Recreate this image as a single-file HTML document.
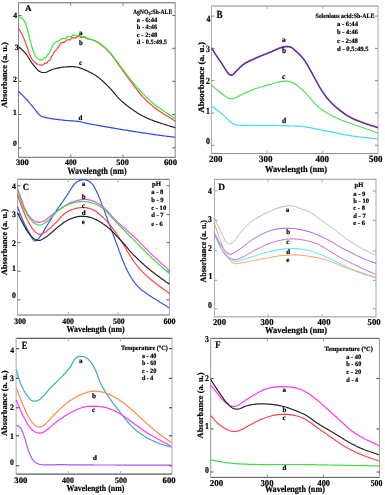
<!DOCTYPE html>
<html><head><meta charset="utf-8"><style>
html,body{margin:0;padding:0;background:#fff;}
svg{display:block;filter:blur(0.25px);}
</style></head><body>
<svg width="385" height="495" viewBox="0 0 385 495" text-rendering="geometricPrecision" font-family='"Liberation Serif", serif' font-weight="bold" fill="#000" stroke="#000" stroke-width="0.2">
<path d="M18.5,2.8 H175.2 M18.5,157.3 H175.2" stroke="#666" stroke-width="1" fill="none"/>
<path d="M18.5,2.3 V157.8 M175.2,2.3 V157.8" stroke="#888" stroke-width="1" fill="none"/>
<path d="M70.7,157.3 v-3.0 M70.7,2.8 v3.0" stroke="#888" stroke-width="1"/>
<path d="M122.9,157.3 v-3.0 M122.9,2.8 v3.0" stroke="#888" stroke-width="1"/>
<path d="M18.5,15.5 h3.0 M175.2,15.5 h-3.0" stroke="#666" stroke-width="1"/>
<path d="M18.5,48.3 h3.0 M175.2,48.3 h-3.0" stroke="#666" stroke-width="1"/>
<path d="M18.5,81.3 h3.0 M175.2,81.3 h-3.0" stroke="#666" stroke-width="1"/>
<path d="M18.5,114.5 h3.0 M175.2,114.5 h-3.0" stroke="#666" stroke-width="1"/>
<path d="M18.5,147.8 h3.0 M175.2,147.8 h-3.0" stroke="#666" stroke-width="1"/>
<path d="M18.4,28.2 18.9,29.1 19.5,29.9 20.0,30.7 20.5,31.6 21.0,32.5 21.5,33.3 22.0,34.2 22.4,35.1 22.8,36.0 23.2,37.0 23.6,37.9 24.0,38.8 24.4,39.7 24.8,40.7 25.1,41.6 25.5,42.6 25.8,43.5 26.2,44.4 26.5,45.4 26.9,46.3 27.2,47.3 27.5,48.2 27.8,49.2 28.1,50.1 28.4,51.1 28.7,52.0 29.0,53.0 29.4,53.9 29.8,54.9 30.2,55.8 30.6,56.7 31.1,57.5 31.6,58.4 32.1,59.3 32.7,60.1 33.3,60.9 34.0,61.6 34.7,62.3 35.5,63.0 36.3,63.5 37.1,64.0 38.0,64.5 39.0,64.8 40.0,65.0 40.9,65.1 41.9,65.0 42.9,64.8 43.8,64.2 44.7,63.2 45.6,63.1 46.4,63.4 47.2,62.6 47.9,61.5 48.6,60.9 49.2,60.5 49.8,59.8 50.3,59.3 50.9,58.2 51.4,56.8 52.0,55.9 52.5,55.1 53.1,54.0 53.7,52.7 54.3,52.0 54.8,51.4 55.4,50.7 56.0,50.1 56.5,49.4 57.1,48.8 57.7,48.1 58.3,47.4 58.9,46.4 59.6,45.1 60.3,44.2 61.0,43.1 61.8,42.6 62.6,42.3 63.4,42.2 64.3,42.4 65.2,41.5 66.1,40.3 67.0,40.0 68.0,39.9 68.9,39.8 69.8,40.0 70.8,39.1 71.7,37.7 72.6,37.6 73.5,38.0 74.5,37.9 75.5,38.0 76.4,37.3 77.4,36.3 78.4,36.4 79.4,36.8 80.4,37.1 81.4,37.7 82.4,37.4 83.4,36.7 84.4,37.1 85.3,37.9 86.3,38.3 87.3,38.8 88.2,39.0 89.2,38.9 90.1,39.2 91.1,39.5 92.0,39.8 93.0,40.2 93.9,40.5 94.9,40.9 95.8,41.3 96.6,41.8 97.5,42.3 98.4,42.9 99.2,43.4 100.0,44.0 100.8,44.6 101.6,45.2 102.4,45.8 103.2,46.5 103.9,47.1 104.7,47.8 105.4,48.4 106.2,49.1 106.9,49.8 107.6,50.5 108.3,51.2 109.0,51.9 109.7,52.7 110.4,53.4 111.0,54.2 111.6,55.0 112.3,55.8 112.9,56.6 113.5,57.4 114.1,58.2 114.6,59.0 115.2,59.8 115.8,60.6 116.4,61.5 116.9,62.3 117.5,63.1 118.1,63.9 118.6,64.8 119.2,65.6 119.8,66.4 120.4,67.2 121.0,68.0 121.6,68.8 122.2,69.7 122.7,70.5 123.3,71.3 123.9,72.1 124.5,72.9 125.1,73.7 125.7,74.5 126.2,75.4 126.8,76.2 127.4,77.0 128.0,77.8 128.6,78.6 129.2,79.4 129.8,80.2 130.4,81.1 131.0,81.9 131.6,82.7 132.2,83.5 132.8,84.3 133.4,85.1 134.0,85.8 134.6,86.6 135.2,87.4 135.8,88.2 136.4,89.0 137.1,89.8 137.7,90.6 138.3,91.4 138.9,92.2 139.6,93.0 140.2,93.7 140.8,94.5 141.5,95.3 142.1,96.0 142.8,96.8 143.5,97.5 144.2,98.2 144.9,99.0 145.6,99.7 146.3,100.4 147.0,101.1 147.7,101.8 148.5,102.5 149.2,103.1 150.0,103.8 150.7,104.4 151.5,105.1 152.3,105.7 153.0,106.4 153.8,107.0 154.6,107.6 155.4,108.2 156.2,108.8 157.0,109.4 157.8,110.0 158.6,110.6 159.5,111.2 160.3,111.7 161.1,112.3 162.0,112.8 162.8,113.4 163.7,113.9 164.5,114.4 165.4,115.0 166.2,115.5 167.1,116.0 167.9,116.5 168.8,117.0 169.7,117.6 170.5,118.1 171.4,118.6 172.2,119.1 173.1,119.7 173.9,120.2 174.8,120.7 175.2,121.0" stroke="#ff3b3b" stroke-width="1.2" fill="none" stroke-linejoin="round"/>
<path d="M18.4,16.1 19.2,16.7 20.1,17.2 20.9,17.7 21.7,18.3 22.5,19.0 23.2,19.7 23.8,20.5 24.3,21.3 24.8,22.2 25.2,23.1 25.6,24.0 26.0,25.0 26.3,25.9 26.7,26.9 27.0,27.8 27.3,28.8 27.6,29.7 27.8,30.7 28.1,31.7 28.3,32.6 28.5,33.6 28.8,34.6 29.0,35.6 29.2,36.6 29.4,37.5 29.7,38.5 29.9,39.5 30.2,40.5 30.5,41.4 30.7,42.4 31.0,43.4 31.3,44.3 31.5,45.3 31.8,46.3 32.1,47.2 32.4,48.2 32.6,49.2 33.0,50.1 33.3,51.1 33.6,52.0 34.0,52.9 34.4,53.9 34.8,54.8 35.3,55.6 35.8,56.5 36.4,57.3 37.1,58.1 37.8,58.7 38.6,59.3 39.5,59.7 40.5,59.9 41.4,59.8 42.4,59.6 43.3,59.2 44.2,58.2 45.0,57.4 45.7,57.6 46.4,57.3 47.0,56.1 47.6,55.0 48.1,54.5 48.6,53.8 49.1,53.2 49.6,52.5 50.1,51.1 50.7,50.0 51.2,49.1 51.6,48.2 52.1,46.8 52.6,45.7 53.1,45.0 53.6,44.3 54.2,43.7 54.8,43.1 55.5,42.6 56.3,42.1 57.1,41.7 58.1,41.4 59.0,40.6 60.0,40.0 60.9,39.3 61.8,38.7 62.8,38.6 63.7,38.4 64.6,38.7 65.5,38.7 66.5,37.5 67.4,36.7 68.4,36.7 69.3,36.5 70.3,36.8 71.2,36.8 72.2,35.4 73.2,34.7 74.2,35.2 75.2,35.4 76.2,35.7 77.2,36.0 78.2,35.2 79.1,35.0 80.1,35.7 81.1,36.2 82.0,36.9 83.0,37.4 83.9,36.8 84.9,36.6 85.8,37.4 86.8,37.9 87.7,38.5 88.7,39.0 89.6,39.0 90.6,39.2 91.5,39.5 92.5,39.8 93.5,40.1 94.4,40.5 95.3,40.9 96.2,41.3 97.1,41.8 98.0,42.3 98.8,42.8 99.6,43.4 100.5,44.0 101.3,44.6 102.1,45.2 102.9,45.8 103.6,46.5 104.4,47.1 105.2,47.8 105.9,48.4 106.6,49.1 107.4,49.8 108.1,50.5 108.8,51.2 109.5,51.9 110.2,52.7 110.8,53.4 111.5,54.2 112.1,55.0 112.7,55.8 113.3,56.6 113.9,57.4 114.5,58.2 115.1,59.0 115.7,59.8 116.3,60.6 116.9,61.4 117.5,62.3 118.0,63.1 118.6,63.9 119.2,64.7 119.8,65.5 120.4,66.3 121.0,67.1 121.6,67.9 122.3,68.7 122.9,69.5 123.5,70.3 124.1,71.1 124.7,71.9 125.3,72.7 125.9,73.5 126.5,74.3 127.1,75.1 127.7,75.9 128.3,76.7 128.9,77.5 129.6,78.3 130.2,79.1 130.8,79.9 131.4,80.6 132.1,81.4 132.7,82.2 133.4,83.0 134.0,83.7 134.7,84.5 135.3,85.3 136.0,86.0 136.6,86.8 137.3,87.5 137.9,88.3 138.6,89.0 139.3,89.8 140.0,90.5 140.6,91.3 141.3,92.0 142.0,92.7 142.7,93.5 143.4,94.2 144.1,94.9 144.8,95.6 145.5,96.3 146.2,97.0 147.0,97.7 147.7,98.4 148.4,99.1 149.2,99.8 149.9,100.5 150.6,101.1 151.4,101.8 152.1,102.5 152.9,103.1 153.7,103.8 154.4,104.4 155.2,105.0 156.0,105.7 156.8,106.3 157.6,106.9 158.4,107.5 159.2,108.1 160.1,108.6 160.9,109.2 161.7,109.8 162.5,110.3 163.4,110.9 164.2,111.4 165.1,112.0 165.9,112.5 166.8,113.1 167.6,113.6 168.4,114.2 169.3,114.7 170.1,115.2 171.0,115.8 171.8,116.3 172.7,116.9 173.5,117.4 174.4,117.9 175.2,118.5 175.2,118.5" stroke="#33e833" stroke-width="1.2" fill="none" stroke-linejoin="round"/>
<path d="M18.4,46.4 19.1,47.1 19.9,47.8 20.6,48.5 21.3,49.1 22.1,49.8 22.8,50.5 23.5,51.2 24.2,51.9 24.9,52.7 25.5,53.4 26.2,54.2 26.8,55.0 27.3,55.8 27.9,56.7 28.4,57.5 29.0,58.4 29.5,59.2 30.0,60.1 30.5,61.0 31.1,61.8 31.6,62.6 32.2,63.4 32.8,64.2 33.4,65.0 34.1,65.8 34.7,66.6 35.4,67.4 36.0,68.1 36.7,68.9 37.4,69.6 38.1,70.3 38.9,70.9 39.7,71.5 40.6,71.9 41.5,72.3 42.5,72.5 43.5,72.5 44.5,72.5 45.5,72.4 46.4,72.1 47.4,71.7 48.3,71.3 49.2,70.8 50.1,70.4 51.0,70.0 51.9,69.6 52.9,69.3 53.8,69.0 54.8,68.7 55.8,68.5 56.7,68.3 57.7,68.1 58.7,67.9 59.7,67.7 60.7,67.5 61.7,67.4 62.7,67.2 63.7,67.1 64.7,67.0 65.7,66.9 66.7,66.8 67.7,66.8 68.7,66.7 69.7,66.7 70.7,66.6 71.7,66.6 72.7,66.7 73.7,66.7 74.7,66.8 75.7,66.9 76.7,67.0 77.6,67.2 78.6,67.5 79.6,67.7 80.5,68.1 81.5,68.4 82.4,68.8 83.3,69.2 84.2,69.6 85.2,70.0 86.1,70.4 87.0,70.8 87.9,71.2 88.8,71.7 89.7,72.1 90.6,72.6 91.5,73.0 92.4,73.5 93.2,74.0 94.1,74.5 95.0,75.1 95.8,75.6 96.6,76.2 97.4,76.7 98.3,77.3 99.0,77.9 99.8,78.6 100.6,79.2 101.4,79.9 102.1,80.5 102.9,81.2 103.6,81.9 104.3,82.6 105.0,83.3 105.8,84.0 106.5,84.7 107.2,85.4 107.9,86.1 108.6,86.8 109.3,87.5 110.0,88.3 110.7,89.0 111.4,89.7 112.0,90.5 112.7,91.2 113.3,92.0 114.0,92.8 114.6,93.5 115.3,94.3 115.9,95.1 116.6,95.8 117.2,96.6 117.9,97.3 118.6,98.1 119.3,98.8 120.0,99.5 120.7,100.2 121.4,100.9 122.2,101.6 122.9,102.2 123.7,102.9 124.5,103.5 125.2,104.2 126.0,104.8 126.8,105.4 127.6,106.0 128.4,106.6 129.2,107.2 130.0,107.8 130.8,108.4 131.7,109.0 132.5,109.6 133.3,110.1 134.1,110.7 135.0,111.3 135.8,111.8 136.6,112.4 137.5,112.9 138.3,113.4 139.2,114.0 140.1,114.5 140.9,115.0 141.8,115.5 142.7,115.9 143.6,116.4 144.5,116.9 145.4,117.3 146.3,117.7 147.2,118.2 148.1,118.6 149.0,118.9 150.0,119.3 150.9,119.7 151.8,120.0 152.8,120.4 153.7,120.7 154.7,121.1 155.6,121.4 156.6,121.7 157.5,122.1 158.5,122.4 159.4,122.7 160.4,123.1 161.3,123.4 162.3,123.7 163.2,124.0 164.2,124.3 165.1,124.6 166.1,124.9 167.1,125.2 168.0,125.5 169.0,125.8 169.9,126.1 170.9,126.4 171.8,126.6 172.8,126.9 173.8,127.2 174.7,127.5 175.2,127.7" stroke="#222" stroke-width="1.2" fill="none" stroke-linejoin="round"/>
<path d="M18.4,91.2 19.1,91.9 19.8,92.6 20.5,93.3 21.3,94.0 22.0,94.7 22.7,95.4 23.4,96.1 24.1,96.8 24.8,97.6 25.5,98.3 26.2,99.0 26.9,99.8 27.5,100.5 28.2,101.3 28.8,102.1 29.5,102.8 30.1,103.6 30.8,104.4 31.4,105.1 32.1,105.9 32.7,106.7 33.3,107.4 34.0,108.2 34.6,109.0 35.2,109.8 35.8,110.6 36.4,111.4 37.0,112.2 37.6,113.0 38.3,113.8 39.0,114.5 39.8,115.1 40.6,115.7 41.5,116.2 42.4,116.6 43.3,116.9 44.3,117.2 45.3,117.4 46.2,117.6 47.2,117.8 48.2,118.0 49.2,118.2 50.2,118.4 51.2,118.6 52.2,118.8 53.1,118.9 54.1,119.1 55.1,119.2 56.1,119.3 57.1,119.4 58.1,119.6 59.1,119.7 60.1,119.8 61.1,119.9 62.1,120.0 63.1,120.1 64.1,120.3 65.1,120.4 66.1,120.5 67.1,120.5 68.1,120.6 69.1,120.7 70.1,120.7 71.1,120.8 72.1,120.9 73.1,120.9 74.1,121.0 75.1,121.1 76.1,121.2 77.1,121.3 78.1,121.4 79.1,121.5 80.1,121.7 81.1,122.0 82.0,122.2 83.0,122.5 84.0,122.7 85.0,123.0 85.9,123.2 86.9,123.4 87.9,123.6 88.9,123.8 89.9,124.0 90.9,124.1 91.9,124.3 92.8,124.5 93.8,124.7 94.8,124.9 95.8,125.0 96.8,125.2 97.8,125.4 98.8,125.6 99.8,125.7 100.8,125.9 101.8,126.1 102.7,126.2 103.7,126.4 104.7,126.6 105.7,126.7 106.7,126.9 107.7,127.1 108.7,127.3 109.7,127.4 110.7,127.6 111.6,127.8 112.6,127.9 113.6,128.1 114.6,128.3 115.6,128.5 116.6,128.6 117.6,128.8 118.6,129.0 119.6,129.1 120.6,129.3 121.5,129.5 122.5,129.6 123.5,129.8 124.5,130.0 125.5,130.1 126.5,130.3 127.5,130.4 128.5,130.6 129.5,130.8 130.5,130.9 131.5,131.1 132.4,131.2 133.4,131.4 134.4,131.6 135.4,131.7 136.4,131.9 137.4,132.0 138.4,132.2 139.4,132.3 140.4,132.5 141.4,132.6 142.4,132.8 143.4,132.9 144.4,133.1 145.3,133.2 146.3,133.4 147.3,133.5 148.3,133.7 149.3,133.8 150.3,134.0 151.3,134.1 152.3,134.3 153.3,134.4 154.3,134.6 155.3,134.7 156.3,134.8 157.3,135.0 158.3,135.1 159.3,135.3 160.3,135.4 161.3,135.5 162.2,135.6 163.2,135.8 164.2,135.9 165.2,136.0 166.2,136.2 167.2,136.3 168.2,136.4 169.2,136.5 170.2,136.7 171.2,136.8 172.2,136.9 173.2,137.0 174.2,137.2 175.2,137.3 175.2,137.3" stroke="#3344ee" stroke-width="1.2" fill="none" stroke-linejoin="round"/>
<text x="25.1" y="11.4" font-size="8.6" text-anchor="start" textLength="6.6" lengthAdjust="spacingAndGlyphs">A</text>
<text x="132.9" y="13.7" font-size="6.6" text-anchor="start" textLength="39.3" lengthAdjust="spacingAndGlyphs">AgNO<tspan font-size="4.5" dy="1.5">3</tspan><tspan dy="-1.5">:Sh-ALE</tspan></text>
<text x="136.8" y="21.5" font-size="6.6" text-anchor="start" textLength="20.4" lengthAdjust="spacingAndGlyphs">a - 6:44</text>
<text x="136.8" y="28.9" font-size="6.6" text-anchor="start" textLength="20.4" lengthAdjust="spacingAndGlyphs">b - 4:46</text>
<text x="136.8" y="36.5" font-size="6.6" text-anchor="start" textLength="20.4" lengthAdjust="spacingAndGlyphs">c - 2:48</text>
<text x="136.8" y="44.3" font-size="6.6" text-anchor="start" textLength="30.2" lengthAdjust="spacingAndGlyphs">d - 0.5:49.5</text>
<text x="13.2" y="17.9" font-size="8.06" text-anchor="start" textLength="3.9" lengthAdjust="spacingAndGlyphs">4</text>
<text x="14.8" y="50.0" font-size="8.06" text-anchor="start" textLength="3.9" lengthAdjust="spacingAndGlyphs">3</text>
<text x="13.1" y="82.0" font-size="8.06" text-anchor="start" textLength="3.9" lengthAdjust="spacingAndGlyphs">2</text>
<text x="13.1" y="114.5" font-size="8.06" text-anchor="start" textLength="3.9" lengthAdjust="spacingAndGlyphs">1</text>
<text x="13.1" y="145.7" font-size="8.06" text-anchor="start" textLength="3.9" lengthAdjust="spacingAndGlyphs">0</text>
<text x="15.9" y="164.7" font-size="8.4" text-anchor="start" textLength="12.8" lengthAdjust="spacingAndGlyphs">300</text>
<text x="65.0" y="164.7" font-size="8.4" text-anchor="start" textLength="11.8" lengthAdjust="spacingAndGlyphs">400</text>
<text x="116.3" y="164.7" font-size="8.4" text-anchor="start" textLength="12.5" lengthAdjust="spacingAndGlyphs">500</text>
<text x="164.0" y="164.7" font-size="8.4" text-anchor="start" textLength="13.0" lengthAdjust="spacingAndGlyphs">600</text>
<text x="67.4" y="173.9" font-size="9.5" text-anchor="start" textLength="59.2" lengthAdjust="spacingAndGlyphs">Wavelength (nm)</text>
<text x="79.0" y="34.5" font-size="7" text-anchor="start">a</text>
<text x="79.0" y="45.0" font-size="7" text-anchor="start">b</text>
<text x="79.0" y="64.5" font-size="7" text-anchor="start">c</text>
<text x="78.5" y="119.5" font-size="7" text-anchor="start">d</text>
<text transform="translate(7.0,74.95) rotate(-90)" font-size="8.3" text-anchor="middle" textLength="65.7" lengthAdjust="spacingAndGlyphs">Absorbance (a. u.)</text>
<path d="M211.4,6.0 H378 M211.4,153.6 H378" stroke="#888" stroke-width="1" fill="none"/>
<path d="M211.4,5.5 V154.1 M378,5.5 V154.1" stroke="#aaa" stroke-width="1" fill="none"/>
<path d="M267.3,153.6 v-3.0 M267.3,6.0 v3.0" stroke="#aaa" stroke-width="1"/>
<path d="M322.7,153.6 v-3.0 M322.7,6.0 v3.0" stroke="#aaa" stroke-width="1"/>
<path d="M211.4,16.1 h3.0 M378,16.1 h-3.0" stroke="#888" stroke-width="1"/>
<path d="M211.4,48.4 h3.0 M378,48.4 h-3.0" stroke="#888" stroke-width="1"/>
<path d="M211.4,80.7 h3.0 M378,80.7 h-3.0" stroke="#888" stroke-width="1"/>
<path d="M211.4,113 h3.0 M378,113 h-3.0" stroke="#888" stroke-width="1"/>
<path d="M211.4,145.3 h3.0 M378,145.3 h-3.0" stroke="#888" stroke-width="1"/>
<path d="M211.4,47.6 212.0,48.4 212.5,49.3 213.1,50.1 213.6,51.0 214.2,51.8 214.7,52.6 215.2,53.5 215.8,54.3 216.3,55.1 216.9,56.0 217.4,56.8 218.0,57.7 218.6,58.5 219.1,59.3 219.7,60.1 220.3,61.0 220.8,61.8 221.4,62.6 222.0,63.4 222.5,64.3 223.0,65.1 223.6,66.0 224.1,66.9 224.6,67.7 225.1,68.6 225.7,69.4 226.2,70.3 226.8,71.1 227.3,71.9 228.0,72.7 228.6,73.4 229.4,74.1 230.2,74.6 231.1,74.8 232.0,74.7 232.9,74.2 233.6,73.6 234.3,72.9 235.0,72.1 235.7,71.4 236.4,70.6 237.1,69.9 237.8,69.3 238.5,68.6 239.2,67.8 239.9,67.1 240.7,66.4 241.4,65.7 242.1,65.1 242.9,64.4 243.7,63.8 244.5,63.3 245.4,62.7 246.2,62.2 247.1,61.8 248.0,61.3 248.9,60.8 249.8,60.4 250.7,60.0 251.6,59.6 252.6,59.2 253.5,58.8 254.4,58.4 255.3,58.0 256.2,57.5 257.1,57.1 258.1,56.7 259.0,56.3 259.9,55.9 260.8,55.6 261.8,55.2 262.7,54.8 263.6,54.4 264.5,54.1 265.5,53.7 266.4,53.3 267.3,53.0 268.3,52.6 269.2,52.2 270.1,51.8 271.1,51.5 272.0,51.1 272.9,50.6 273.8,50.2 274.7,49.8 275.6,49.4 276.5,49.0 277.5,48.6 278.4,48.2 279.3,47.8 280.3,47.5 281.2,47.2 282.2,46.9 283.2,46.7 284.1,46.5 285.1,46.4 286.1,46.3 287.1,46.2 288.1,46.3 289.1,46.4 290.1,46.6 291.0,46.9 291.9,47.4 292.7,47.9 293.5,48.6 294.2,49.3 294.9,50.0 295.7,50.7 296.4,51.3 297.2,52.0 297.9,52.7 298.6,53.4 299.4,54.0 300.1,54.7 300.8,55.5 301.5,56.2 302.2,56.9 302.8,57.7 303.4,58.5 304.0,59.3 304.6,60.1 305.2,60.9 305.7,61.8 306.2,62.6 306.8,63.5 307.3,64.3 307.8,65.2 308.2,66.1 308.7,67.0 309.2,67.8 309.7,68.7 310.2,69.6 310.7,70.5 311.2,71.3 311.7,72.2 312.2,73.1 312.6,74.0 313.1,74.9 313.6,75.7 314.1,76.6 314.5,77.5 315.0,78.4 315.5,79.3 315.9,80.2 316.4,81.1 316.9,81.9 317.4,82.8 317.9,83.7 318.4,84.5 318.9,85.4 319.4,86.3 319.9,87.1 320.4,88.0 321.0,88.8 321.5,89.7 322.0,90.5 322.6,91.4 323.1,92.2 323.7,93.1 324.2,93.9 324.8,94.7 325.4,95.5 326.0,96.3 326.6,97.1 327.3,97.9 327.9,98.6 328.6,99.4 329.3,100.1 329.9,100.9 330.6,101.6 331.3,102.3 332.0,103.0 332.7,103.7 333.5,104.4 334.2,105.1 334.9,105.8 335.7,106.5 336.4,107.1 337.2,107.8 338.0,108.4 338.7,109.1 339.5,109.7 340.3,110.3 341.1,110.9 341.9,111.5 342.7,112.1 343.5,112.7 344.4,113.3 345.2,113.8 346.0,114.4 346.9,114.9 347.7,115.4 348.6,115.9 349.5,116.4 350.3,116.9 351.2,117.4 352.1,117.8 353.0,118.3 353.9,118.7 354.9,119.1 355.8,119.5 356.7,119.9 357.6,120.3 358.6,120.6 359.5,121.0 360.4,121.4 361.4,121.7 362.3,122.1 363.3,122.4 364.2,122.7 365.1,123.1 366.1,123.4 367.0,123.8 368.0,124.1 368.9,124.4 369.9,124.7 370.8,125.0 371.8,125.4 372.7,125.6 373.7,125.9 374.7,126.2 375.6,126.5 376.6,126.8 377.5,127.1 378.0,127.3" stroke="#ee3333" stroke-width="1.2" fill="none" stroke-linejoin="round"/>
<path d="M211.4,48.2 212.0,49.0 212.5,49.9 213.1,50.7 213.6,51.6 214.2,52.4 214.7,53.2 215.2,54.1 215.8,54.9 216.3,55.7 216.9,56.6 217.4,57.4 218.0,58.3 218.6,59.1 219.1,59.9 219.7,60.7 220.3,61.6 220.8,62.4 221.4,63.2 222.0,64.0 222.5,64.9 223.0,65.7 223.6,66.6 224.1,67.5 224.6,68.3 225.1,69.2 225.7,70.0 226.2,70.9 226.8,71.7 227.3,72.5 228.0,73.3 228.6,74.0 229.4,74.7 230.2,75.2 231.1,75.4 232.0,75.3 232.9,74.8 233.6,74.2 234.3,73.5 235.0,72.7 235.7,72.0 236.4,71.2 237.1,70.5 237.8,69.9 238.5,69.2 239.2,68.4 239.9,67.7 240.7,67.0 241.4,66.3 242.1,65.7 242.9,65.0 243.7,64.4 244.5,63.9 245.4,63.3 246.2,62.8 247.1,62.4 248.0,61.9 248.9,61.4 249.8,61.0 250.7,60.6 251.6,60.2 252.6,59.8 253.5,59.4 254.4,59.0 255.3,58.6 256.2,58.1 257.1,57.7 258.1,57.3 259.0,56.9 259.9,56.5 260.8,56.2 261.8,55.8 262.7,55.4 263.6,55.0 264.5,54.7 265.5,54.3 266.4,53.9 267.3,53.6 268.3,53.2 269.2,52.8 270.1,52.4 271.1,52.1 272.0,51.7 272.9,51.2 273.8,50.8 274.7,50.4 275.6,50.0 276.5,49.6 277.5,49.2 278.4,48.8 279.3,48.4 280.3,48.1 281.2,47.8 282.2,47.5 283.2,47.3 284.1,47.1 285.1,47.0 286.1,46.9 287.1,46.8 288.1,46.9 289.1,47.0 290.1,47.2 291.0,47.5 291.9,48.0 292.7,48.5 293.5,49.2 294.2,49.9 294.9,50.6 295.7,51.3 296.4,51.9 297.2,52.6 297.9,53.3 298.6,54.0 299.4,54.6 300.1,55.3 300.8,56.1 301.5,56.8 302.2,57.5 302.8,58.3 303.4,59.1 304.0,59.9 304.6,60.7 305.2,61.5 305.7,62.4 306.2,63.2 306.8,64.1 307.3,64.9 307.8,65.8 308.2,66.7 308.7,67.6 309.2,68.4 309.7,69.3 310.2,70.2 310.7,71.1 311.2,71.9 311.7,72.8 312.2,73.7 312.6,74.6 313.1,75.5 313.6,76.3 314.1,77.2 314.5,78.1 315.0,79.0 315.5,79.9 315.9,80.8 316.4,81.7 316.9,82.5 317.4,83.4 317.9,84.3 318.4,85.1 318.9,86.0 319.4,86.9 319.9,87.7 320.4,88.6 321.0,89.4 321.5,90.3 322.0,91.1 322.6,92.0 323.1,92.8 323.7,93.7 324.2,94.5 324.8,95.3 325.4,96.1 326.0,96.9 326.6,97.7 327.3,98.5 327.9,99.2 328.6,100.0 329.3,100.7 329.9,101.5 330.6,102.2 331.3,102.9 332.0,103.6 332.7,104.3 333.5,105.0 334.2,105.7 334.9,106.4 335.7,107.1 336.4,107.7 337.2,108.4 338.0,109.0 338.7,109.7 339.5,110.3 340.3,110.9 341.1,111.5 341.9,112.1 342.7,112.7 343.5,113.3 344.4,113.9 345.2,114.4 346.0,115.0 346.9,115.5 347.7,116.0 348.6,116.5 349.5,117.0 350.3,117.5 351.2,118.0 352.1,118.4 353.0,118.9 353.9,119.3 354.9,119.7 355.8,120.1 356.7,120.5 357.6,120.9 358.6,121.2 359.5,121.6 360.4,122.0 361.4,122.3 362.3,122.7 363.3,123.0 364.2,123.3 365.1,123.7 366.1,124.0 367.0,124.4 368.0,124.7 368.9,125.0 369.9,125.3 370.8,125.6 371.8,126.0 372.7,126.2 373.7,126.5 374.7,126.8 375.6,127.1 376.6,127.4 377.5,127.7 378.0,127.9" stroke="#3333cc" stroke-width="1.2" fill="none" stroke-linejoin="round"/>
<path d="M211.4,85.0 212.2,85.7 212.9,86.3 213.7,87.0 214.4,87.6 215.2,88.3 215.9,88.9 216.7,89.6 217.5,90.3 218.2,90.9 219.0,91.5 219.8,92.1 220.6,92.7 221.4,93.3 222.2,93.9 223.0,94.5 223.8,95.2 224.6,95.8 225.4,96.3 226.3,96.9 227.1,97.4 228.0,97.9 228.9,98.3 229.9,98.6 230.9,98.7 231.9,98.7 232.9,98.6 233.8,98.4 234.8,98.0 235.7,97.7 236.6,97.2 237.5,96.8 238.4,96.3 239.3,95.8 240.2,95.3 241.0,94.9 241.9,94.4 242.8,93.9 243.7,93.5 244.7,93.1 245.6,92.7 246.5,92.4 247.4,92.0 248.4,91.6 249.3,91.2 250.2,90.8 251.1,90.4 252.1,90.1 253.0,89.7 253.9,89.3 254.9,89.0 255.8,88.6 256.8,88.3 257.7,88.0 258.7,87.6 259.6,87.3 260.6,87.0 261.6,86.8 262.5,86.5 263.5,86.2 264.4,85.9 265.4,85.7 266.4,85.4 267.4,85.1 268.3,84.9 269.3,84.6 270.3,84.3 271.2,84.1 272.2,83.8 273.2,83.5 274.1,83.2 275.1,83.0 276.1,82.7 277.0,82.4 278.0,82.2 279.0,82.0 280.0,81.8 281.0,81.6 281.9,81.5 282.9,81.3 283.9,81.2 284.9,81.1 285.9,81.1 286.9,81.1 287.9,81.3 288.9,81.5 289.9,81.7 290.8,82.0 291.8,82.4 292.7,82.8 293.6,83.3 294.5,83.7 295.3,84.2 296.2,84.8 297.0,85.4 297.8,85.9 298.6,86.6 299.4,87.2 300.1,87.9 300.9,88.5 301.6,89.2 302.4,89.9 303.1,90.6 303.8,91.3 304.5,92.0 305.3,92.7 306.0,93.4 306.7,94.1 307.4,94.8 308.0,95.6 308.7,96.3 309.3,97.1 310.0,97.9 310.6,98.6 311.3,99.4 311.9,100.2 312.5,101.0 313.2,101.7 313.9,102.5 314.5,103.2 315.2,103.9 315.9,104.6 316.7,105.3 317.4,106.0 318.2,106.7 318.9,107.3 319.7,107.9 320.5,108.6 321.3,109.2 322.1,109.8 322.9,110.3 323.8,110.9 324.6,111.5 325.4,112.0 326.3,112.6 327.1,113.1 328.0,113.6 328.9,114.1 329.7,114.6 330.6,115.1 331.5,115.6 332.4,116.0 333.3,116.5 334.2,116.9 335.1,117.3 336.0,117.8 336.9,118.2 337.8,118.6 338.8,119.0 339.7,119.4 340.6,119.8 341.5,120.2 342.5,120.5 343.4,120.9 344.4,121.2 345.3,121.6 346.2,121.9 347.2,122.2 348.1,122.6 349.1,122.9 350.0,123.2 351.0,123.5 351.9,123.9 352.9,124.2 353.8,124.5 354.8,124.8 355.8,125.2 356.7,125.5 357.6,125.8 358.6,126.1 359.5,126.5 360.5,126.8 361.4,127.2 362.4,127.5 363.3,127.8 364.3,128.2 365.2,128.5 366.2,128.8 367.1,129.2 368.1,129.5 369.0,129.8 370.0,130.2 370.9,130.5 371.8,130.8 372.8,131.2 373.7,131.5 374.7,131.8 375.6,132.2 376.6,132.5 377.5,132.8 378.0,133.0" stroke="#55dd55" stroke-width="1.2" fill="none" stroke-linejoin="round"/>
<path d="M211.4,105.8 212.2,106.4 213.0,107.0 213.8,107.6 214.6,108.2 215.4,108.8 216.2,109.4 217.0,110.1 217.8,110.7 218.6,111.3 219.4,111.9 220.2,112.5 221.0,113.1 221.8,113.8 222.6,114.4 223.3,115.0 224.1,115.7 224.8,116.4 225.5,117.1 226.3,117.8 227.0,118.5 227.7,119.2 228.4,119.9 229.1,120.6 229.8,121.3 230.6,122.0 231.4,122.6 232.2,123.2 233.1,123.7 234.0,124.1 234.9,124.4 235.9,124.7 236.9,124.9 237.8,125.0 238.8,125.1 239.9,125.2 240.9,125.2 241.9,125.2 242.9,125.3 243.9,125.3 244.9,125.3 245.9,125.4 246.9,125.4 247.9,125.4 248.9,125.4 249.9,125.5 250.9,125.5 251.9,125.5 252.9,125.4 253.9,125.4 254.9,125.4 255.9,125.4 256.9,125.4 257.9,125.4 259.0,125.4 260.0,125.4 261.0,125.3 262.0,125.3 263.0,125.3 264.0,125.3 265.0,125.3 266.0,125.3 267.0,125.3 268.0,125.3 269.0,125.3 270.0,125.3 271.0,125.3 272.0,125.3 273.0,125.4 274.0,125.4 275.0,125.4 276.0,125.4 277.0,125.5 278.1,125.5 279.1,125.5 280.1,125.5 281.1,125.6 282.1,125.6 283.1,125.7 284.1,125.7 285.1,125.7 286.1,125.8 287.1,125.8 288.1,125.8 289.1,125.9 290.1,125.9 291.1,126.0 292.1,126.0 293.1,126.0 294.1,126.1 295.1,126.1 296.1,126.1 297.1,126.2 298.1,126.2 299.2,126.3 300.2,126.3 301.2,126.4 302.2,126.5 303.2,126.6 304.2,126.7 305.2,126.9 306.1,127.0 307.1,127.2 308.1,127.4 309.1,127.5 310.1,127.7 311.1,127.9 312.1,128.1 313.1,128.3 314.1,128.5 315.0,128.7 316.0,128.9 317.0,129.1 318.0,129.3 319.0,129.5 320.0,129.7 320.9,129.9 321.9,130.1 322.9,130.3 323.9,130.5 324.9,130.7 325.9,130.9 326.9,131.1 327.9,131.3 328.8,131.5 329.8,131.7 330.8,131.9 331.8,132.1 332.8,132.3 333.8,132.5 334.7,132.7 335.7,132.9 336.7,133.1 337.7,133.3 338.7,133.5 339.7,133.7 340.7,133.9 341.6,134.1 342.6,134.3 343.6,134.5 344.6,134.7 345.6,134.8 346.6,135.0 347.6,135.2 348.6,135.4 349.6,135.5 350.6,135.7 351.5,135.8 352.5,136.0 353.5,136.1 354.5,136.3 355.5,136.4 356.5,136.5 357.5,136.7 358.5,136.8 359.5,136.9 360.5,137.0 361.5,137.1 362.5,137.3 363.5,137.4 364.5,137.5 365.5,137.6 366.5,137.7 367.5,137.8 368.5,137.9 369.5,138.0 370.5,138.1 371.5,138.3 372.5,138.4 373.5,138.5 374.5,138.6 375.5,138.7 376.5,138.8 377.5,138.9 378.0,139.0" stroke="#44ddee" stroke-width="1.2" fill="none" stroke-linejoin="round"/>
<text x="216.6" y="18.0" font-size="11" text-anchor="start" textLength="6.0" lengthAdjust="spacingAndGlyphs">B</text>
<text x="315.6" y="18.3" font-size="6.6" text-anchor="start" textLength="59.0" lengthAdjust="spacingAndGlyphs">Selenious acid:Sh-ALE</text>
<text x="337.0" y="26.4" font-size="6.6" text-anchor="start" textLength="21.0" lengthAdjust="spacingAndGlyphs">a - 6:44</text>
<text x="337.0" y="34.2" font-size="6.6" text-anchor="start" textLength="21.0" lengthAdjust="spacingAndGlyphs">b - 4:46</text>
<text x="337.0" y="42.5" font-size="6.6" text-anchor="start" textLength="21.0" lengthAdjust="spacingAndGlyphs">c - 2:48</text>
<text x="337.0" y="50.8" font-size="6.6" text-anchor="start" textLength="31.6" lengthAdjust="spacingAndGlyphs">d - 0.5:49.5</text>
<text x="206.4" y="22.3" font-size="9.41" text-anchor="start" textLength="3.9" lengthAdjust="spacingAndGlyphs">4</text>
<text x="206.0" y="52.0" font-size="9.41" text-anchor="start" textLength="3.9" lengthAdjust="spacingAndGlyphs">3</text>
<text x="206.0" y="83.8" font-size="9.41" text-anchor="start" textLength="3.9" lengthAdjust="spacingAndGlyphs">2</text>
<text x="206.0" y="113.8" font-size="9.41" text-anchor="start" textLength="3.9" lengthAdjust="spacingAndGlyphs">1</text>
<text x="206.0" y="143.6" font-size="9.41" text-anchor="start" textLength="3.9" lengthAdjust="spacingAndGlyphs">0</text>
<text x="209.0" y="161.8" font-size="9.41" text-anchor="start" textLength="13.6" lengthAdjust="spacingAndGlyphs">200</text>
<text x="259.0" y="161.8" font-size="9.41" text-anchor="start" textLength="13.5" lengthAdjust="spacingAndGlyphs">300</text>
<text x="315.6" y="161.8" font-size="9.41" text-anchor="start" textLength="13.4" lengthAdjust="spacingAndGlyphs">400</text>
<text x="369.0" y="161.8" font-size="9.41" text-anchor="start" textLength="13.4" lengthAdjust="spacingAndGlyphs">500</text>
<text x="264.9" y="171.5" font-size="9" text-anchor="start" textLength="62.3" lengthAdjust="spacingAndGlyphs">Wavelength (nm)</text>
<text x="282.0" y="41.5" font-size="7.5" text-anchor="start">a</text>
<text x="282.0" y="52.5" font-size="7.5" text-anchor="start">b</text>
<text x="282.0" y="78.5" font-size="7.5" text-anchor="start">c</text>
<text x="282.0" y="122.5" font-size="7.5" text-anchor="start">d</text>
<text transform="translate(203.6,77.45) rotate(-90)" font-size="8.6" text-anchor="middle" textLength="70.7" lengthAdjust="spacingAndGlyphs">Absorbance (a. u.)</text>
<path d="M17.6,179.3 H169.4 M17.6,315.0 H169.4" stroke="#666" stroke-width="1" fill="none"/>
<path d="M17.6,178.8 V315.5 M169.4,178.8 V315.5" stroke="#aaa" stroke-width="1" fill="none"/>
<path d="M68.3,315.0 v-3.0 M68.3,179.3 v3.0" stroke="#aaa" stroke-width="1"/>
<path d="M118,315.0 v-3.0 M118,179.3 v3.0" stroke="#aaa" stroke-width="1"/>
<path d="M17.6,185.8 h3.0 M169.4,185.8 h-3.0" stroke="#666" stroke-width="1"/>
<path d="M17.6,214.6 h3.0 M169.4,214.6 h-3.0" stroke="#666" stroke-width="1"/>
<path d="M17.6,242.6 h3.0 M169.4,242.6 h-3.0" stroke="#666" stroke-width="1"/>
<path d="M17.6,271.2 h3.0 M169.4,271.2 h-3.0" stroke="#666" stroke-width="1"/>
<path d="M17.6,299.8 h3.0 M169.4,299.8 h-3.0" stroke="#666" stroke-width="1"/>
<path d="M17.4,206.5 17.8,207.4 18.1,208.4 18.5,209.3 18.8,210.3 19.2,211.2 19.5,212.1 19.9,213.1 20.2,214.0 20.6,214.9 20.9,215.9 21.3,216.8 21.7,217.7 22.1,218.6 22.5,219.6 22.9,220.5 23.3,221.4 23.8,222.3 24.2,223.2 24.6,224.1 25.1,225.0 25.5,225.9 26.0,226.8 26.5,227.7 26.9,228.5 27.4,229.4 27.9,230.3 28.4,231.2 28.9,232.1 29.3,233.0 29.8,233.8 30.2,234.7 30.6,235.6 31.1,236.5 31.6,237.4 32.1,238.3 32.6,239.1 33.2,239.9 33.9,240.5 34.8,240.9 35.7,240.8 36.5,240.4 37.3,239.8 38.0,239.1 38.7,238.3 39.4,237.6 40.0,236.8 40.6,236.0 41.2,235.2 41.8,234.4 42.3,233.5 42.8,232.7 43.3,231.8 43.8,230.9 44.3,230.1 44.8,229.2 45.3,228.3 45.8,227.5 46.3,226.6 46.9,225.8 47.4,224.9 47.9,224.1 48.4,223.2 49.0,222.3 49.5,221.5 50.0,220.6 50.6,219.8 51.1,218.9 51.6,218.1 52.1,217.2 52.7,216.4 53.2,215.5 53.7,214.7 54.3,213.8 54.8,213.0 55.4,212.2 55.9,211.3 56.4,210.5 57.0,209.6 57.6,208.8 58.1,208.0 58.7,207.2 59.3,206.4 59.9,205.5 60.4,204.7 61.0,203.9 61.6,203.1 62.2,202.3 62.8,201.5 63.4,200.6 63.9,199.8 64.5,199.0 65.1,198.2 65.6,197.3 66.2,196.5 66.7,195.7 67.3,194.8 67.8,194.0 68.3,193.1 68.8,192.3 69.4,191.4 69.9,190.6 70.4,189.7 71.0,188.9 71.6,188.1 72.1,187.2 72.7,186.4 73.2,185.6 73.8,184.8 74.5,184.0 75.2,183.3 75.9,182.6 76.7,182.0 77.6,181.5 78.5,181.0 79.4,180.6 80.3,180.2 81.3,180.0 82.2,179.8 83.2,179.7 84.2,179.7 85.2,179.8 86.2,180.1 87.1,180.4 88.0,180.8 88.9,181.3 89.7,181.8 90.6,182.4 91.3,183.0 92.0,183.8 92.7,184.5 93.3,185.3 93.8,186.1 94.3,187.0 94.8,187.9 95.3,188.8 95.7,189.7 96.2,190.6 96.6,191.5 97.0,192.4 97.5,193.3 97.9,194.2 98.3,195.1 98.7,196.0 99.0,197.0 99.4,197.9 99.8,198.8 100.1,199.8 100.5,200.7 100.8,201.6 101.2,202.6 101.5,203.5 101.9,204.5 102.3,205.4 102.6,206.3 103.0,207.3 103.3,208.2 103.7,209.1 104.0,210.1 104.4,211.0 104.7,211.9 105.1,212.9 105.4,213.8 105.8,214.8 106.1,215.7 106.5,216.6 106.8,217.6 107.2,218.5 107.5,219.5 107.9,220.4 108.2,221.3 108.6,222.3 108.9,223.2 109.3,224.2 109.6,225.1 110.0,226.0 110.3,227.0 110.7,227.9 111.0,228.9 111.4,229.8 111.7,230.7 112.1,231.7 112.4,232.6 112.8,233.5 113.1,234.5 113.5,235.4 113.8,236.4 114.2,237.3 114.5,238.2 114.9,239.2 115.2,240.1 115.6,241.1 115.9,242.0 116.3,242.9 116.6,243.9 117.0,244.8 117.3,245.7 117.7,246.7 118.0,247.6 118.4,248.6 118.7,249.5 119.0,250.5 119.4,251.4 119.7,252.3 120.1,253.3 120.4,254.2 120.8,255.2 121.1,256.1 121.5,257.0 121.8,258.0 122.2,258.9 122.6,259.8 122.9,260.8 123.3,261.7 123.7,262.6 124.1,263.5 124.5,264.4 124.9,265.4 125.3,266.3 125.7,267.2 126.2,268.1 126.6,269.0 127.0,269.9 127.4,270.8 127.9,271.7 128.3,272.6 128.8,273.5 129.3,274.4 129.8,275.3 130.2,276.1 130.8,277.0 131.3,277.8 131.8,278.7 132.4,279.5 132.9,280.4 133.5,281.2 134.1,282.0 134.7,282.8 135.3,283.6 136.0,284.4 136.6,285.1 137.3,285.9 137.9,286.6 138.6,287.3 139.4,288.0 140.1,288.7 140.9,289.3 141.7,290.0 142.5,290.6 143.3,291.2 144.1,291.7 144.9,292.3 145.7,292.9 146.5,293.5 147.3,294.1 148.2,294.6 149.0,295.2 149.8,295.7 150.7,296.3 151.5,296.8 152.4,297.4 153.2,297.9 154.0,298.5 154.9,299.0 155.7,299.5 156.6,300.1 157.4,300.6 158.3,301.1 159.1,301.6 160.0,302.2 160.8,302.7 161.7,303.2 162.6,303.7 163.4,304.3 164.3,304.8 165.1,305.3 166.0,305.8 166.8,306.3 167.7,306.9 168.5,307.4 169.4,307.9 169.4,307.9" stroke="#3355ee" stroke-width="1.2" fill="none" stroke-linejoin="round"/>
<path d="M17.4,188.6 17.8,189.5 18.1,190.5 18.5,191.4 18.9,192.3 19.2,193.3 19.6,194.2 20.0,195.2 20.3,196.1 20.7,197.0 21.0,198.0 21.3,198.9 21.7,199.9 22.0,200.8 22.3,201.8 22.6,202.7 22.9,203.7 23.3,204.6 23.6,205.6 24.0,206.5 24.3,207.5 24.7,208.4 25.2,209.3 25.6,210.2 26.1,211.1 26.6,212.0 27.1,212.8 27.6,213.7 28.1,214.5 28.7,215.4 29.3,216.2 29.9,217.0 30.5,217.7 31.2,218.5 31.9,219.2 32.7,219.8 33.5,220.4 34.3,221.0 35.2,221.5 36.1,221.9 37.1,222.2 38.0,222.3 39.0,222.4 40.0,222.2 41.0,222.0 41.9,221.7 42.9,221.3 43.8,220.9 44.7,220.4 45.5,219.9 46.4,219.3 47.2,218.7 47.9,218.1 48.7,217.4 49.5,216.8 50.3,216.2 51.1,215.6 51.9,215.0 52.7,214.4 53.5,213.8 54.3,213.2 55.1,212.6 55.9,212.0 56.7,211.4 57.5,210.8 58.4,210.2 59.2,209.6 60.0,209.1 60.8,208.5 61.7,207.9 62.5,207.4 63.4,206.9 64.2,206.4 65.1,205.8 66.0,205.3 66.8,204.8 67.7,204.3 68.6,203.8 69.5,203.3 70.4,202.9 71.3,202.5 72.2,202.1 73.1,201.7 74.1,201.4 75.1,201.1 76.0,200.8 77.0,200.6 78.0,200.3 78.9,200.1 79.9,199.9 80.9,199.7 81.9,199.6 82.9,199.5 83.9,199.4 84.9,199.4 85.9,199.4 86.9,199.5 87.9,199.6 88.9,199.8 89.9,200.0 90.8,200.3 91.8,200.6 92.7,200.9 93.7,201.3 94.6,201.7 95.5,202.1 96.4,202.6 97.3,203.0 98.2,203.5 99.0,204.1 99.9,204.6 100.7,205.2 101.5,205.7 102.3,206.3 103.1,207.0 103.9,207.6 104.6,208.3 105.3,209.0 106.1,209.7 106.8,210.4 107.5,211.1 108.1,211.9 108.8,212.6 109.5,213.3 110.2,214.1 110.9,214.8 111.5,215.6 112.2,216.3 112.9,217.1 113.6,217.8 114.2,218.6 114.9,219.3 115.6,220.0 116.3,220.7 117.0,221.4 117.8,222.1 118.5,222.8 119.2,223.5 120.0,224.2 120.7,224.9 121.4,225.5 122.2,226.2 122.9,226.9 123.7,227.6 124.5,228.2 125.2,228.9 126.0,229.5 126.7,230.2 127.5,230.9 128.2,231.5 129.0,232.2 129.7,232.9 130.5,233.5 131.2,234.2 132.0,234.9 132.7,235.6 133.5,236.2 134.2,236.9 134.9,237.6 135.6,238.3 136.4,239.0 137.1,239.7 137.8,240.4 138.5,241.1 139.2,241.8 139.9,242.6 140.6,243.3 141.3,244.0 142.0,244.7 142.7,245.4 143.4,246.1 144.1,246.9 144.9,247.6 145.6,248.3 146.3,249.0 147.0,249.7 147.7,250.4 148.4,251.1 149.1,251.9 149.8,252.6 150.5,253.3 151.3,254.0 152.0,254.7 152.7,255.3 153.4,256.0 154.2,256.7 154.9,257.4 155.6,258.1 156.4,258.8 157.1,259.5 157.9,260.1 158.6,260.8 159.3,261.5 160.1,262.2 160.8,262.8 161.6,263.5 162.3,264.2 163.1,264.9 163.8,265.5 164.6,266.2 165.3,266.9 166.1,267.6 166.8,268.2 167.5,268.9 168.3,269.6 169.0,270.3 169.4,270.6" stroke="#ff44ff" stroke-width="1.2" fill="none" stroke-linejoin="round"/>
<path d="M17.4,190.6 17.8,191.5 18.1,192.5 18.4,193.4 18.8,194.4 19.1,195.3 19.5,196.3 19.8,197.2 20.1,198.1 20.5,199.1 20.8,200.0 21.1,201.0 21.5,201.9 21.8,202.9 22.2,203.8 22.5,204.7 22.9,205.7 23.2,206.6 23.6,207.5 24.0,208.5 24.4,209.4 24.9,210.3 25.3,211.2 25.8,212.1 26.2,213.0 26.7,213.8 27.2,214.7 27.7,215.6 28.2,216.5 28.7,217.3 29.3,218.1 29.9,218.9 30.6,219.7 31.2,220.4 32.0,221.1 32.7,221.8 33.5,222.4 34.3,223.0 35.1,223.6 36.0,224.1 36.9,224.5 37.8,224.8 38.8,225.1 39.8,225.1 40.7,225.0 41.7,224.7 42.6,224.3 43.5,223.8 44.3,223.3 45.2,222.8 46.0,222.2 46.8,221.6 47.6,221.0 48.4,220.3 49.1,219.7 49.8,219.0 50.5,218.2 51.2,217.5 51.9,216.8 52.5,216.0 53.2,215.3 53.9,214.5 54.6,213.8 55.3,213.1 56.0,212.3 56.7,211.7 57.4,211.0 58.2,210.3 59.0,209.7 59.8,209.2 60.6,208.6 61.5,208.0 62.3,207.5 63.2,207.0 64.1,206.5 65.0,206.1 65.9,205.6 66.8,205.2 67.7,204.8 68.6,204.4 69.5,204.0 70.5,203.7 71.4,203.3 72.4,203.1 73.3,202.8 74.3,202.5 75.3,202.3 76.3,202.2 77.3,202.0 78.3,201.9 79.3,201.7 80.3,201.6 81.3,201.6 82.3,201.5 83.3,201.5 84.3,201.5 85.3,201.6 86.3,201.7 87.3,201.8 88.2,202.0 89.2,202.2 90.2,202.4 91.2,202.7 92.1,202.9 93.1,203.2 94.0,203.6 95.0,203.9 95.9,204.3 96.8,204.7 97.7,205.2 98.6,205.6 99.5,206.1 100.3,206.6 101.2,207.2 102.0,207.7 102.8,208.4 103.6,209.0 104.3,209.6 105.1,210.3 105.8,211.0 106.5,211.7 107.2,212.4 107.9,213.2 108.6,213.9 109.3,214.6 109.9,215.4 110.6,216.1 111.3,216.8 112.0,217.6 112.6,218.3 113.3,219.1 114.0,219.8 114.6,220.6 115.3,221.3 116.0,222.0 116.7,222.8 117.4,223.5 118.1,224.2 118.8,224.9 119.5,225.6 120.2,226.3 120.9,227.0 121.6,227.7 122.4,228.5 123.1,229.2 123.8,229.9 124.5,230.6 125.2,231.3 125.9,232.0 126.6,232.7 127.3,233.4 128.0,234.1 128.7,234.8 129.4,235.5 130.2,236.3 130.9,237.0 131.6,237.7 132.3,238.4 133.0,239.1 133.7,239.8 134.4,240.5 135.1,241.2 135.8,241.9 136.5,242.6 137.2,243.4 137.9,244.1 138.6,244.8 139.3,245.5 140.0,246.2 140.7,246.9 141.4,247.6 142.1,248.4 142.9,249.1 143.6,249.8 144.3,250.5 145.0,251.2 145.7,251.9 146.4,252.6 147.1,253.3 147.8,254.0 148.5,254.7 149.2,255.4 150.0,256.1 150.7,256.8 151.4,257.5 152.1,258.2 152.9,258.9 153.6,259.6 154.4,260.2 155.1,260.9 155.8,261.6 156.6,262.3 157.3,262.9 158.1,263.6 158.8,264.3 159.6,264.9 160.3,265.6 161.1,266.2 161.9,266.9 162.6,267.6 163.4,268.2 164.1,268.9 164.9,269.5 165.6,270.2 166.4,270.8 167.1,271.5 167.9,272.2 168.6,272.8 169.4,273.5 169.4,273.5" stroke="#33dd33" stroke-width="1.2" fill="none" stroke-linejoin="round"/>
<path d="M17.4,194.8 17.7,195.7 18.1,196.7 18.4,197.6 18.7,198.6 19.1,199.5 19.4,200.5 19.7,201.4 20.1,202.4 20.4,203.3 20.8,204.3 21.1,205.2 21.5,206.1 21.8,207.1 22.2,208.0 22.6,208.9 23.0,209.9 23.3,210.8 23.7,211.7 24.1,212.7 24.5,213.6 24.9,214.5 25.3,215.4 25.7,216.4 26.1,217.3 26.5,218.2 27.0,219.1 27.4,220.0 27.9,220.9 28.3,221.8 28.8,222.6 29.3,223.5 29.8,224.4 30.3,225.3 30.8,226.1 31.4,227.0 31.9,227.8 32.5,228.6 33.1,229.5 33.7,230.2 34.3,231.0 35.0,231.7 35.8,232.4 36.6,233.0 37.4,233.6 38.3,234.1 39.2,234.3 40.2,234.4 41.1,234.3 42.1,233.9 43.0,233.5 43.9,233.0 44.7,232.5 45.5,232.0 46.4,231.4 47.1,230.7 47.9,230.1 48.7,229.4 49.4,228.7 50.1,228.1 50.9,227.4 51.6,226.7 52.3,226.0 53.1,225.3 53.8,224.6 54.5,223.9 55.3,223.2 56.0,222.5 56.7,221.8 57.4,221.1 58.0,220.3 58.7,219.6 59.4,218.9 60.1,218.1 60.7,217.4 61.4,216.6 62.1,215.9 62.8,215.2 63.6,214.5 64.3,213.9 65.1,213.2 65.9,212.7 66.8,212.1 67.6,211.6 68.5,211.1 69.4,210.7 70.3,210.3 71.3,209.9 72.2,209.5 73.2,209.2 74.1,208.9 75.1,208.7 76.0,208.4 77.0,208.2 78.0,208.0 79.0,207.8 80.0,207.7 81.0,207.6 82.0,207.5 83.0,207.5 84.0,207.5 85.0,207.6 86.0,207.7 87.0,207.9 88.0,208.1 89.0,208.3 89.9,208.6 90.9,208.9 91.8,209.3 92.7,209.7 93.6,210.1 94.5,210.6 95.4,211.1 96.2,211.7 97.0,212.3 97.8,212.9 98.6,213.5 99.4,214.1 100.1,214.8 100.9,215.4 101.6,216.1 102.4,216.8 103.1,217.5 103.8,218.2 104.5,218.9 105.2,219.6 105.9,220.3 106.6,221.1 107.3,221.8 108.0,222.5 108.7,223.3 109.3,224.1 109.9,224.8 110.6,225.6 111.2,226.4 111.8,227.2 112.4,228.0 113.0,228.8 113.6,229.6 114.2,230.4 114.8,231.3 115.3,232.1 115.9,232.9 116.5,233.7 117.0,234.6 117.6,235.4 118.1,236.2 118.7,237.1 119.2,237.9 119.8,238.8 120.4,239.6 120.9,240.4 121.5,241.3 122.0,242.1 122.6,243.0 123.1,243.8 123.6,244.7 124.1,245.5 124.6,246.4 125.1,247.3 125.6,248.1 126.1,249.0 126.6,249.9 127.1,250.7 127.6,251.6 128.1,252.5 128.6,253.4 129.2,254.2 129.7,255.1 130.2,256.0 130.7,256.8 131.2,257.7 131.8,258.5 132.3,259.4 132.9,260.2 133.5,261.0 134.0,261.8 134.6,262.6 135.2,263.4 135.9,264.2 136.5,265.0 137.1,265.8 137.8,266.6 138.4,267.3 139.1,268.1 139.7,268.8 140.4,269.6 141.1,270.3 141.8,271.1 142.5,271.8 143.2,272.5 143.9,273.2 144.6,273.9 145.3,274.6 146.1,275.3 146.8,276.0 147.5,276.7 148.3,277.3 149.0,278.0 149.8,278.7 150.5,279.3 151.3,280.0 152.1,280.6 152.9,281.2 153.7,281.8 154.5,282.5 155.3,283.1 156.1,283.7 156.9,284.3 157.7,284.9 158.5,285.5 159.3,286.1 160.1,286.7 160.9,287.2 161.7,287.8 162.5,288.4 163.3,289.0 164.2,289.6 165.0,290.2 165.8,290.8 166.6,291.4 167.4,292.0 168.2,292.6 169.0,293.2 169.4,293.5" stroke="#ff4444" stroke-width="1.2" fill="none" stroke-linejoin="round"/>
<path d="M17.4,212.7 17.9,213.6 18.3,214.5 18.8,215.4 19.2,216.3 19.7,217.2 20.1,218.1 20.6,219.0 21.0,219.9 21.5,220.8 22.0,221.6 22.4,222.5 22.9,223.4 23.4,224.3 23.8,225.2 24.3,226.1 24.8,227.0 25.3,227.8 25.7,228.7 26.3,229.6 26.8,230.4 27.3,231.3 27.9,232.1 28.5,232.9 29.1,233.7 29.7,234.5 30.3,235.3 31.0,236.0 31.7,236.7 32.4,237.4 33.2,238.1 34.0,238.7 34.8,239.2 35.7,239.7 36.6,240.0 37.6,240.3 38.6,240.4 39.6,240.3 40.5,240.1 41.5,239.7 42.4,239.3 43.2,238.8 44.1,238.2 44.9,237.7 45.8,237.1 46.6,236.5 47.4,235.9 48.2,235.4 49.0,234.7 49.8,234.1 50.5,233.5 51.3,232.8 52.1,232.1 52.8,231.5 53.6,230.8 54.3,230.1 55.1,229.5 55.8,228.8 56.6,228.2 57.4,227.6 58.2,226.9 58.9,226.3 59.7,225.7 60.5,225.0 61.3,224.4 62.1,223.8 62.9,223.2 63.7,222.6 64.5,222.1 65.4,221.6 66.3,221.0 67.1,220.6 68.0,220.1 68.9,219.6 69.8,219.2 70.7,218.8 71.7,218.4 72.6,218.1 73.6,217.7 74.5,217.4 75.5,217.2 76.5,216.9 77.4,216.7 78.4,216.6 79.4,216.4 80.4,216.4 81.4,216.3 82.4,216.3 83.4,216.3 84.4,216.4 85.4,216.5 86.4,216.6 87.4,216.7 88.4,216.9 89.4,217.1 90.3,217.4 91.3,217.7 92.2,218.0 93.2,218.4 94.1,218.8 95.0,219.2 95.9,219.6 96.8,220.1 97.7,220.5 98.6,221.0 99.4,221.5 100.3,222.1 101.2,222.6 102.0,223.1 102.8,223.7 103.7,224.3 104.5,224.8 105.3,225.4 106.1,226.0 106.9,226.6 107.7,227.3 108.4,227.9 109.2,228.6 110.0,229.2 110.7,229.9 111.4,230.6 112.2,231.3 112.9,232.0 113.6,232.7 114.3,233.4 115.0,234.1 115.7,234.9 116.4,235.6 117.0,236.3 117.7,237.1 118.4,237.8 119.1,238.5 119.8,239.3 120.4,240.0 121.1,240.7 121.8,241.5 122.5,242.2 123.2,243.0 123.8,243.7 124.5,244.5 125.1,245.2 125.8,246.0 126.4,246.8 127.1,247.5 127.7,248.3 128.4,249.0 129.0,249.8 129.7,250.6 130.4,251.3 131.0,252.1 131.7,252.8 132.4,253.6 133.1,254.3 133.7,255.0 134.4,255.7 135.2,256.5 135.9,257.2 136.6,257.9 137.3,258.6 138.0,259.3 138.8,259.9 139.5,260.6 140.2,261.3 141.0,262.0 141.7,262.7 142.4,263.3 143.2,264.0 143.9,264.7 144.7,265.3 145.4,266.0 146.2,266.7 147.0,267.3 147.7,268.0 148.5,268.6 149.3,269.3 150.0,269.9 150.8,270.5 151.6,271.2 152.4,271.8 153.2,272.4 154.0,273.0 154.7,273.6 155.5,274.2 156.4,274.8 157.2,275.4 158.0,276.0 158.8,276.6 159.6,277.2 160.4,277.8 161.2,278.4 162.0,279.0 162.9,279.5 163.7,280.1 164.5,280.7 165.3,281.3 166.1,281.9 167.0,282.4 167.8,283.0 168.6,283.6 169.4,284.2 169.4,284.2" stroke="#222" stroke-width="1.2" fill="none" stroke-linejoin="round"/>
<text x="22.8" y="189.6" font-size="9.5" text-anchor="start" textLength="6.3" lengthAdjust="spacingAndGlyphs">C</text>
<text x="152.0" y="186.2" font-size="6.6" text-anchor="start" textLength="9.0" lengthAdjust="spacingAndGlyphs">pH</text>
<text x="151.2" y="194.1" font-size="6.6" text-anchor="start">a - 8</text>
<text x="151.2" y="201.6" font-size="6.6" text-anchor="start">b - 9</text>
<text x="151.2" y="209.6" font-size="6.6" text-anchor="start">c - 10</text>
<text x="151.2" y="217.4" font-size="6.6" text-anchor="start">d - 7</text>
<text x="151.2" y="225.7" font-size="6.6" text-anchor="start">e - 6</text>
<text x="12.0" y="188.5" font-size="8.4" text-anchor="start" textLength="3.9" lengthAdjust="spacingAndGlyphs">4</text>
<text x="12.0" y="217.0" font-size="8.4" text-anchor="start" textLength="3.9" lengthAdjust="spacingAndGlyphs">3</text>
<text x="12.0" y="245.5" font-size="8.4" text-anchor="start" textLength="3.9" lengthAdjust="spacingAndGlyphs">2</text>
<text x="12.0" y="271.0" font-size="8.4" text-anchor="start" textLength="3.9" lengthAdjust="spacingAndGlyphs">1</text>
<text x="12.0" y="298.2" font-size="8.4" text-anchor="start" textLength="3.9" lengthAdjust="spacingAndGlyphs">0</text>
<text x="14.3" y="323.5" font-size="8.4" text-anchor="start" textLength="11.7" lengthAdjust="spacingAndGlyphs">300</text>
<text x="62.3" y="323.5" font-size="8.4" text-anchor="start" textLength="11.7" lengthAdjust="spacingAndGlyphs">400</text>
<text x="113.0" y="323.5" font-size="8.4" text-anchor="start" textLength="11.7" lengthAdjust="spacingAndGlyphs">500</text>
<text x="163.4" y="323.5" font-size="8.4" text-anchor="start" textLength="12.2" lengthAdjust="spacingAndGlyphs">600</text>
<text x="66.5" y="332.4" font-size="9" text-anchor="start" textLength="58.2" lengthAdjust="spacingAndGlyphs">Wavelength (nm)</text>
<text x="81.8" y="185.5" font-size="7" text-anchor="start">a</text>
<text x="81.8" y="198.5" font-size="7" text-anchor="start">b</text>
<text x="81.8" y="207.6" font-size="7" text-anchor="start">c</text>
<text x="81.8" y="214.5" font-size="7" text-anchor="start">d</text>
<text x="81.8" y="224.3" font-size="7" text-anchor="start">e</text>
<text transform="translate(6.6,242.05) rotate(-90)" font-size="8.3" text-anchor="middle" textLength="66.5" lengthAdjust="spacingAndGlyphs">Absorbance (a. u.)</text>
<path d="M214.4,179.3 H376 M214.4,316.8 H376" stroke="#999" stroke-width="1" fill="none"/>
<path d="M214.4,178.8 V317.3 M376,178.8 V317.3" stroke="#aaa" stroke-width="1" fill="none"/>
<path d="M268,316.8 v-3.0 M268,179.3 v3.0" stroke="#aaa" stroke-width="1"/>
<path d="M322,316.8 v-3.0 M322,179.3 v3.0" stroke="#aaa" stroke-width="1"/>
<path d="M214.4,191 h3.0 M376,191 h-3.0" stroke="#999" stroke-width="1"/>
<path d="M214.4,220.3 h3.0 M376,220.3 h-3.0" stroke="#999" stroke-width="1"/>
<path d="M214.4,250.9 h3.0 M376,250.9 h-3.0" stroke="#999" stroke-width="1"/>
<path d="M214.4,280.3 h3.0 M376,280.3 h-3.0" stroke="#999" stroke-width="1"/>
<path d="M214.4,308.8 h3.0 M376,308.8 h-3.0" stroke="#999" stroke-width="1"/>
<path d="M214.3,217.5 214.7,218.4 215.1,219.3 215.6,220.2 216.0,221.1 216.4,222.1 216.8,223.0 217.2,223.9 217.6,224.8 218.1,225.7 218.5,226.6 218.9,227.5 219.3,228.4 219.8,229.3 220.2,230.2 220.6,231.2 221.1,232.1 221.5,233.0 222.0,233.9 222.4,234.8 222.8,235.7 223.2,236.6 223.6,237.5 224.1,238.4 224.5,239.3 225.0,240.2 225.5,241.1 226.1,241.9 226.7,242.6 227.5,243.3 228.3,243.7 229.3,244.0 230.2,244.0 231.1,243.7 232.0,243.2 232.7,242.5 233.4,241.8 234.1,241.1 234.7,240.3 235.4,239.5 236.0,238.7 236.6,237.9 237.1,237.1 237.7,236.2 238.2,235.4 238.8,234.6 239.4,233.8 240.0,233.0 240.6,232.2 241.3,231.4 241.9,230.7 242.6,229.9 243.3,229.2 243.9,228.4 244.6,227.7 245.3,227.0 246.0,226.3 246.8,225.6 247.5,224.9 248.2,224.2 249.0,223.5 249.7,222.9 250.5,222.2 251.3,221.6 252.1,221.0 252.9,220.5 253.8,219.9 254.6,219.4 255.5,218.8 256.3,218.3 257.2,217.8 258.1,217.3 258.9,216.8 259.8,216.4 260.7,215.9 261.6,215.4 262.5,214.9 263.4,214.4 264.2,214.0 265.1,213.5 266.0,213.1 266.9,212.6 267.8,212.2 268.8,211.8 269.7,211.4 270.6,211.0 271.5,210.6 272.4,210.2 273.4,209.8 274.3,209.4 275.2,209.1 276.2,208.7 277.1,208.4 278.1,208.0 279.0,207.7 280.0,207.4 280.9,207.2 281.9,206.9 282.9,206.7 283.9,206.5 284.9,206.3 285.8,206.2 286.8,206.0 287.8,205.9 288.8,205.8 289.8,205.7 290.8,205.7 291.8,205.8 292.8,205.9 293.8,206.1 294.8,206.3 295.7,206.6 296.7,207.0 297.6,207.3 298.5,207.7 299.5,208.1 300.4,208.4 301.4,208.8 302.3,209.1 303.2,209.5 304.2,209.8 305.1,210.2 306.1,210.5 307.0,210.9 307.9,211.3 308.8,211.7 309.7,212.2 310.6,212.6 311.5,213.1 312.3,213.7 313.2,214.2 314.0,214.8 314.8,215.4 315.6,216.0 316.4,216.6 317.2,217.2 318.0,217.8 318.8,218.4 319.6,219.0 320.4,219.5 321.3,220.1 322.1,220.7 322.9,221.3 323.8,221.8 324.6,222.4 325.4,222.9 326.2,223.5 327.1,224.1 327.9,224.6 328.7,225.2 329.5,225.8 330.4,226.4 331.2,227.0 332.0,227.6 332.8,228.2 333.5,228.8 334.3,229.4 335.1,230.1 335.9,230.7 336.7,231.4 337.4,232.0 338.2,232.6 339.0,233.3 339.8,233.9 340.6,234.5 341.4,235.1 342.2,235.7 343.0,236.3 343.8,236.9 344.6,237.5 345.4,238.1 346.2,238.7 347.0,239.2 347.9,239.8 348.7,240.4 349.5,240.9 350.3,241.5 351.2,242.1 352.0,242.6 352.9,243.2 353.7,243.7 354.5,244.3 355.4,244.8 356.2,245.3 357.1,245.9 358.0,246.4 358.8,246.9 359.7,247.4 360.6,247.9 361.4,248.4 362.3,248.8 363.2,249.3 364.1,249.8 365.0,250.2 365.9,250.6 366.8,251.0 367.7,251.5 368.7,251.9 369.6,252.3 370.5,252.7 371.4,253.1 372.3,253.5 373.3,253.9 374.2,254.3 375.1,254.7 376.0,255.1 376.0,255.1" stroke="#b5b5b5" stroke-width="1.0" fill="none" stroke-linejoin="round"/>
<path d="M214.3,232.7 214.8,233.6 215.2,234.5 215.7,235.4 216.2,236.3 216.6,237.2 217.1,238.1 217.5,239.0 218.0,239.8 218.4,240.7 218.9,241.6 219.4,242.5 219.9,243.4 220.5,244.2 221.0,245.0 221.6,245.9 222.2,246.7 222.7,247.5 223.3,248.3 223.9,249.2 224.5,250.0 225.1,250.8 225.8,251.5 226.5,252.2 227.2,252.9 228.0,253.5 228.9,253.9 229.9,254.1 230.8,254.1 231.8,253.9 232.7,253.5 233.6,253.1 234.5,252.6 235.3,252.0 236.2,251.5 237.0,250.9 237.9,250.4 238.7,249.8 239.5,249.3 240.4,248.7 241.2,248.1 242.0,247.5 242.8,246.9 243.6,246.3 244.3,245.7 245.1,245.0 245.9,244.4 246.7,243.8 247.5,243.1 248.3,242.5 249.1,241.9 249.9,241.3 250.7,240.8 251.6,240.2 252.4,239.6 253.2,239.1 254.1,238.6 254.9,238.0 255.8,237.5 256.7,237.0 257.5,236.5 258.4,236.0 259.3,235.5 260.2,235.0 261.1,234.6 262.0,234.1 262.9,233.7 263.8,233.3 264.7,232.9 265.6,232.4 266.5,232.1 267.5,231.7 268.4,231.3 269.4,231.0 270.3,230.7 271.3,230.4 272.2,230.1 273.2,229.9 274.2,229.7 275.2,229.4 276.2,229.3 277.2,229.1 278.1,228.9 279.1,228.8 280.1,228.6 281.1,228.5 282.1,228.4 283.1,228.4 284.1,228.3 285.1,228.3 286.1,228.2 287.2,228.2 288.2,228.2 289.2,228.3 290.2,228.3 291.2,228.4 292.2,228.4 293.2,228.5 294.2,228.6 295.2,228.7 296.2,228.9 297.2,229.0 298.2,229.2 299.1,229.3 300.1,229.5 301.1,229.7 302.1,229.9 303.1,230.2 304.1,230.4 305.0,230.7 306.0,230.9 307.0,231.2 307.9,231.5 308.9,231.7 309.9,232.0 310.8,232.3 311.8,232.7 312.7,233.0 313.7,233.3 314.6,233.7 315.5,234.1 316.4,234.5 317.4,234.9 318.3,235.3 319.2,235.7 320.1,236.1 321.0,236.5 322.0,236.9 322.9,237.4 323.8,237.8 324.7,238.2 325.6,238.7 326.5,239.1 327.4,239.6 328.3,240.0 329.2,240.5 330.0,241.0 330.9,241.5 331.8,241.9 332.7,242.4 333.5,243.0 334.4,243.5 335.3,244.0 336.1,244.5 337.0,245.1 337.8,245.6 338.7,246.1 339.5,246.6 340.4,247.1 341.3,247.6 342.2,248.1 343.1,248.6 343.9,249.0 344.8,249.5 345.7,249.9 346.6,250.4 347.5,250.8 348.4,251.3 349.4,251.7 350.3,252.1 351.2,252.6 352.1,253.0 353.0,253.5 353.8,253.9 354.7,254.4 355.6,254.9 356.5,255.3 357.4,255.8 358.3,256.3 359.2,256.7 360.1,257.1 361.0,257.6 361.9,258.0 362.9,258.4 363.8,258.8 364.7,259.2 365.6,259.5 366.6,259.9 367.5,260.3 368.5,260.6 369.4,261.0 370.3,261.3 371.3,261.7 372.2,262.0 373.2,262.3 374.1,262.7 375.1,263.0 376.0,263.4 376.0,263.4" stroke="#9955ee" stroke-width="1.0" fill="none" stroke-linejoin="round"/>
<path d="M214.3,235.0 214.8,235.9 215.3,236.7 215.8,237.6 216.2,238.5 216.7,239.4 217.2,240.3 217.6,241.2 218.1,242.1 218.5,243.0 219.0,243.9 219.4,244.8 219.9,245.7 220.4,246.5 220.8,247.4 221.3,248.3 221.8,249.2 222.3,250.0 222.9,250.9 223.4,251.7 224.0,252.6 224.6,253.4 225.2,254.1 225.9,254.9 226.6,255.6 227.4,256.2 228.2,256.9 229.0,257.4 229.8,258.0 230.7,258.5 231.6,258.9 232.5,259.2 233.5,259.4 234.5,259.6 235.5,259.6 236.5,259.4 237.5,259.2 238.4,258.9 239.4,258.6 240.3,258.2 241.2,257.8 242.1,257.4 243.0,257.0 243.9,256.6 244.8,256.1 245.7,255.6 246.6,255.1 247.4,254.6 248.3,254.0 249.1,253.5 250.0,253.0 250.8,252.5 251.7,251.9 252.6,251.4 253.4,250.9 254.3,250.5 255.2,250.0 256.1,249.5 257.0,249.1 257.9,248.7 258.8,248.2 259.7,247.8 260.6,247.3 261.5,246.9 262.4,246.5 263.3,246.1 264.3,245.7 265.2,245.3 266.1,244.9 267.0,244.5 268.0,244.1 268.9,243.8 269.8,243.4 270.8,243.1 271.7,242.8 272.7,242.4 273.7,242.1 274.6,241.9 275.6,241.6 276.5,241.3 277.5,241.0 278.5,240.8 279.5,240.5 280.4,240.3 281.4,240.1 282.4,239.9 283.4,239.7 284.4,239.5 285.4,239.4 286.3,239.2 287.3,239.1 288.3,239.0 289.3,238.9 290.3,238.9 291.3,238.9 292.4,238.9 293.4,238.9 294.4,238.9 295.4,239.0 296.4,239.1 297.4,239.2 298.4,239.3 299.3,239.4 300.3,239.5 301.3,239.7 302.3,239.8 303.3,240.0 304.3,240.2 305.3,240.3 306.3,240.6 307.3,240.8 308.2,241.0 309.2,241.3 310.2,241.5 311.1,241.8 312.1,242.1 313.0,242.5 314.0,242.8 314.9,243.1 315.9,243.5 316.8,243.9 317.7,244.3 318.6,244.7 319.5,245.1 320.4,245.5 321.3,246.0 322.2,246.5 323.1,246.9 324.0,247.5 324.8,248.0 325.7,248.5 326.5,249.0 327.4,249.6 328.2,250.1 329.1,250.7 329.9,251.2 330.8,251.7 331.6,252.2 332.5,252.8 333.3,253.3 334.2,253.8 335.0,254.3 335.9,254.9 336.8,255.4 337.6,255.9 338.5,256.4 339.3,256.9 340.2,257.4 341.1,257.9 342.0,258.4 342.9,258.9 343.7,259.3 344.6,259.8 345.5,260.2 346.4,260.7 347.3,261.1 348.2,261.6 349.1,262.0 350.0,262.4 350.9,262.9 351.8,263.3 352.7,263.8 353.6,264.2 354.5,264.7 355.4,265.1 356.3,265.6 357.2,266.1 358.1,266.5 359.0,267.0 359.9,267.4 360.8,267.8 361.7,268.3 362.6,268.7 363.5,269.1 364.4,269.5 365.4,269.9 366.3,270.3 367.2,270.7 368.1,271.1 369.1,271.5 370.0,271.9 370.9,272.3 371.8,272.7 372.8,273.0 373.7,273.4 374.6,273.8 375.5,274.2 376.0,274.4" stroke="#cc55cc" stroke-width="1.0" fill="none" stroke-linejoin="round"/>
<path d="M214.3,233.9 214.8,234.8 215.2,235.7 215.6,236.6 216.1,237.5 216.5,238.4 216.9,239.3 217.3,240.2 217.7,241.2 218.1,242.1 218.5,243.0 219.0,243.9 219.4,244.8 219.8,245.7 220.2,246.6 220.6,247.5 221.1,248.5 221.5,249.3 222.0,250.2 222.5,251.1 223.0,252.0 223.5,252.8 224.1,253.7 224.7,254.5 225.3,255.3 226.0,256.0 226.7,256.7 227.4,257.4 228.2,258.0 229.0,258.6 229.8,259.2 230.7,259.6 231.6,260.1 232.5,260.5 233.5,260.8 234.5,261.0 235.4,261.2 236.4,261.2 237.4,261.2 238.4,261.0 239.4,260.8 240.4,260.6 241.3,260.3 242.3,260.0 243.2,259.6 244.2,259.3 245.1,259.0 246.1,258.7 247.1,258.4 248.0,258.1 249.0,257.8 249.9,257.5 250.9,257.2 251.9,256.9 252.8,256.6 253.8,256.3 254.7,256.0 255.7,255.7 256.6,255.4 257.6,255.1 258.5,254.8 259.5,254.5 260.4,254.2 261.4,253.9 262.4,253.6 263.3,253.3 264.3,253.0 265.3,252.7 266.2,252.5 267.2,252.2 268.2,252.0 269.1,251.7 270.1,251.5 271.1,251.3 272.1,251.0 273.0,250.8 274.0,250.6 275.0,250.4 276.0,250.2 277.0,250.0 278.0,249.8 278.9,249.6 279.9,249.4 280.9,249.3 281.9,249.1 282.9,249.0 283.9,248.9 284.9,248.8 285.9,248.8 286.9,248.7 287.9,248.7 288.9,248.6 289.9,248.6 290.9,248.6 291.9,248.6 292.9,248.6 293.9,248.6 294.9,248.6 295.9,248.6 297.0,248.7 298.0,248.7 299.0,248.8 299.9,248.9 300.9,249.0 301.9,249.2 302.9,249.3 303.9,249.5 304.9,249.7 305.9,249.9 306.9,250.1 307.9,250.3 308.8,250.5 309.8,250.8 310.8,251.0 311.7,251.3 312.7,251.6 313.7,251.9 314.6,252.2 315.6,252.5 316.5,252.9 317.4,253.2 318.4,253.6 319.3,253.9 320.3,254.3 321.2,254.7 322.1,255.0 323.0,255.4 323.9,255.9 324.9,256.3 325.8,256.7 326.7,257.1 327.6,257.6 328.5,258.0 329.4,258.4 330.3,258.9 331.2,259.3 332.1,259.7 333.0,260.2 333.9,260.6 334.8,261.0 335.7,261.5 336.6,261.9 337.5,262.4 338.4,262.8 339.3,263.3 340.2,263.7 341.1,264.2 342.0,264.6 342.9,265.1 343.8,265.5 344.7,266.0 345.6,266.4 346.5,266.9 347.4,267.3 348.3,267.8 349.2,268.2 350.1,268.7 351.0,269.1 351.9,269.5 352.8,270.0 353.7,270.4 354.6,270.8 355.6,271.1 356.5,271.5 357.4,271.9 358.3,272.3 359.3,272.6 360.2,273.0 361.2,273.3 362.1,273.7 363.1,274.0 364.0,274.3 365.0,274.7 365.9,275.0 366.9,275.3 367.8,275.6 368.8,275.8 369.7,276.1 370.7,276.4 371.7,276.7 372.6,277.0 373.6,277.3 374.6,277.6 375.5,277.9 376.0,278.0" stroke="#44e5ee" stroke-width="1.0" fill="none" stroke-linejoin="round"/>
<path d="M214.3,223.4 214.6,224.3 215.0,225.3 215.3,226.2 215.6,227.2 216.0,228.1 216.3,229.1 216.6,230.0 216.9,231.0 217.3,231.9 217.6,232.9 217.9,233.8 218.3,234.8 218.6,235.7 218.9,236.7 219.3,237.6 219.6,238.6 220.0,239.5 220.3,240.4 220.7,241.4 221.0,242.3 221.4,243.2 221.8,244.2 222.2,245.1 222.5,246.0 222.9,247.0 223.3,247.9 223.7,248.8 224.0,249.8 224.4,250.7 224.8,251.6 225.2,252.5 225.6,253.5 226.1,254.4 226.5,255.3 227.0,256.1 227.5,257.0 228.0,257.8 228.6,258.7 229.2,259.5 229.9,260.2 230.5,261.0 231.2,261.7 232.0,262.3 232.8,262.9 233.7,263.3 234.7,263.6 235.6,263.7 236.6,263.7 237.6,263.6 238.6,263.4 239.6,263.2 240.6,263.0 241.6,262.8 242.5,262.6 243.5,262.4 244.5,262.3 245.5,262.1 246.5,261.9 247.5,261.7 248.5,261.6 249.5,261.4 250.5,261.2 251.4,261.0 252.4,260.8 253.4,260.6 254.4,260.4 255.4,260.2 256.4,260.1 257.4,259.9 258.3,259.7 259.3,259.5 260.3,259.3 261.3,259.1 262.3,258.9 263.3,258.7 264.3,258.5 265.2,258.3 266.2,258.1 267.2,257.9 268.2,257.7 269.2,257.5 270.2,257.3 271.1,257.1 272.1,257.0 273.1,256.8 274.1,256.6 275.1,256.5 276.1,256.3 277.1,256.2 278.1,256.0 279.1,255.9 280.1,255.8 281.1,255.7 282.1,255.6 283.1,255.5 284.1,255.4 285.1,255.3 286.1,255.3 287.1,255.2 288.1,255.1 289.1,255.1 290.1,255.0 291.1,255.0 292.1,255.0 293.1,254.9 294.1,254.9 295.1,254.9 296.1,254.9 297.1,254.9 298.1,255.0 299.1,255.0 300.1,255.1 301.1,255.2 302.1,255.3 303.1,255.4 304.1,255.6 305.1,255.7 306.1,255.8 307.1,256.0 308.1,256.1 309.1,256.3 310.1,256.4 311.1,256.6 312.0,256.8 313.0,257.0 314.0,257.1 315.0,257.3 316.0,257.5 317.0,257.7 318.0,257.9 318.9,258.2 319.9,258.4 320.9,258.6 321.9,258.9 322.8,259.1 323.8,259.4 324.8,259.7 325.7,259.9 326.7,260.2 327.7,260.5 328.6,260.8 329.6,261.1 330.5,261.5 331.5,261.8 332.4,262.2 333.3,262.5 334.3,262.9 335.2,263.3 336.1,263.7 337.0,264.1 337.9,264.6 338.8,265.0 339.8,265.4 340.7,265.7 341.6,266.1 342.6,266.5 343.5,266.8 344.5,267.1 345.4,267.5 346.4,267.8 347.3,268.1 348.3,268.4 349.2,268.7 350.2,269.0 351.1,269.3 352.1,269.6 353.1,269.9 354.0,270.2 355.0,270.5 355.9,270.8 356.9,271.1 357.9,271.4 358.8,271.7 359.8,272.0 360.7,272.3 361.7,272.6 362.7,272.9 363.6,273.2 364.6,273.5 365.5,273.8 366.5,274.1 367.4,274.4 368.4,274.8 369.3,275.1 370.3,275.4 371.2,275.7 372.2,276.0 373.1,276.3 374.1,276.7 375.0,277.0 376.0,277.3 376.0,277.3" stroke="#ff9955" stroke-width="1.0" fill="none" stroke-linejoin="round"/>
<text x="218.2" y="189.7" font-size="9.5" text-anchor="start" textLength="6.8" lengthAdjust="spacingAndGlyphs">D</text>
<text x="354.6" y="187.0" font-size="6.6" text-anchor="start" textLength="8.8" lengthAdjust="spacingAndGlyphs">pH</text>
<text x="353.3" y="196.0" font-size="6.6" text-anchor="start">a - 9</text>
<text x="353.3" y="203.0" font-size="6.6" text-anchor="start">b - 10</text>
<text x="353.3" y="210.3" font-size="6.6" text-anchor="start">c - 8</text>
<text x="353.3" y="217.5" font-size="6.6" text-anchor="start">d - 7</text>
<text x="353.3" y="225.1" font-size="6.6" text-anchor="start">e - 6</text>
<text x="208.0" y="193.8" font-size="8.96" text-anchor="start" textLength="3.9" lengthAdjust="spacingAndGlyphs">4</text>
<text x="208.0" y="222.3" font-size="8.96" text-anchor="start" textLength="3.9" lengthAdjust="spacingAndGlyphs">3</text>
<text x="208.0" y="250.8" font-size="8.96" text-anchor="start" textLength="3.9" lengthAdjust="spacingAndGlyphs">2</text>
<text x="208.5" y="279.2" font-size="8.96" text-anchor="start" textLength="3.9" lengthAdjust="spacingAndGlyphs">1</text>
<text x="208.0" y="307.8" font-size="8.96" text-anchor="start" textLength="3.9" lengthAdjust="spacingAndGlyphs">0</text>
<text x="213.0" y="325.0" font-size="8.96" text-anchor="start" textLength="13.0" lengthAdjust="spacingAndGlyphs">200</text>
<text x="260.5" y="325.0" font-size="8.96" text-anchor="start" textLength="13.0" lengthAdjust="spacingAndGlyphs">300</text>
<text x="317.5" y="325.0" font-size="8.96" text-anchor="start" textLength="13.0" lengthAdjust="spacingAndGlyphs">400</text>
<text x="367.6" y="325.0" font-size="8.96" text-anchor="start" textLength="13.0" lengthAdjust="spacingAndGlyphs">500</text>
<text x="265.0" y="332.5" font-size="9" text-anchor="start" textLength="62.0" lengthAdjust="spacingAndGlyphs">Wavelength (nm)</text>
<text x="285.8" y="211.5" font-size="7" text-anchor="start">a</text>
<text x="286.3" y="233.5" font-size="7" text-anchor="start">b</text>
<text x="286.3" y="244.3" font-size="7" text-anchor="start">c</text>
<text x="286.3" y="253.6" font-size="7" text-anchor="start">d</text>
<text x="286.3" y="262.2" font-size="7" text-anchor="start">e</text>
<text transform="translate(206.2,251.25) rotate(-90)" font-size="8.3" text-anchor="middle" textLength="62.5" lengthAdjust="spacingAndGlyphs">Absorbance (a. u.)</text>
<path d="M16.1,338.3 H172 M16.1,474.1 H172" stroke="#333" stroke-width="1" fill="none"/>
<path d="M16.1,337.8 V474.6 M172,337.8 V474.6" stroke="#aaa" stroke-width="1" fill="none"/>
<path d="M68.3,474.1 v-3.0 M68.3,338.3 v3.0" stroke="#aaa" stroke-width="1"/>
<path d="M120.6,474.1 v-3.0 M120.6,338.3 v3.0" stroke="#aaa" stroke-width="1"/>
<path d="M16.1,348.7 h3.0 M172,348.7 h-3.0" stroke="#333" stroke-width="1"/>
<path d="M16.1,378.3 h3.0 M172,378.3 h-3.0" stroke="#333" stroke-width="1"/>
<path d="M16.1,407.8 h3.0 M172,407.8 h-3.0" stroke="#333" stroke-width="1"/>
<path d="M16.1,435.8 h3.0 M172,435.8 h-3.0" stroke="#333" stroke-width="1"/>
<path d="M16.1,465.8 h3.0 M172,465.8 h-3.0" stroke="#333" stroke-width="1"/>
<path d="M16.3,369.5 16.6,370.5 16.9,371.4 17.1,372.4 17.4,373.4 17.7,374.3 18.0,375.3 18.2,376.3 18.5,377.2 18.8,378.2 19.1,379.1 19.3,380.1 19.7,381.1 20.0,382.0 20.3,383.0 20.7,383.9 21.1,384.8 21.5,385.7 21.9,386.6 22.3,387.5 22.8,388.4 23.2,389.3 23.7,390.2 24.2,391.1 24.7,391.9 25.2,392.8 25.8,393.6 26.3,394.5 26.9,395.3 27.5,396.1 28.1,396.9 28.7,397.7 29.3,398.5 30.0,399.2 30.8,399.9 31.6,400.4 32.5,400.8 33.5,401.0 34.5,401.2 35.5,401.1 36.5,401.0 37.4,400.7 38.3,400.2 39.2,399.7 40.0,399.2 40.8,398.6 41.6,397.9 42.3,397.3 43.0,396.6 43.7,395.9 44.4,395.1 45.0,394.3 45.7,393.6 46.3,392.8 46.9,392.0 47.6,391.2 48.2,390.4 48.9,389.7 49.5,388.9 50.2,388.2 50.9,387.5 51.6,386.8 52.4,386.1 53.1,385.4 53.8,384.7 54.5,384.0 55.2,383.3 55.9,382.6 56.6,381.9 57.4,381.2 58.1,380.5 58.8,379.8 59.5,379.1 60.2,378.4 60.9,377.6 61.6,376.9 62.3,376.2 63.0,375.5 63.7,374.7 64.4,374.0 65.1,373.3 65.7,372.5 66.4,371.8 67.0,371.0 67.7,370.2 68.3,369.5 69.0,368.7 69.6,367.9 70.2,367.1 70.7,366.2 71.2,365.4 71.7,364.5 72.2,363.6 72.7,362.7 73.1,361.9 73.6,361.0 74.1,360.1 74.7,359.3 75.3,358.5 76.1,357.9 76.9,357.3 77.8,356.9 78.7,356.5 79.7,356.3 80.7,356.3 81.7,356.3 82.7,356.4 83.6,356.7 84.6,357.0 85.5,357.4 86.4,357.9 87.2,358.4 88.0,359.1 88.7,359.7 89.4,360.5 90.1,361.2 90.7,362.0 91.3,362.8 91.9,363.6 92.5,364.4 93.0,365.3 93.5,366.1 94.0,367.0 94.5,367.9 94.9,368.8 95.3,369.7 95.7,370.6 96.1,371.5 96.5,372.5 96.8,373.4 97.2,374.4 97.5,375.3 97.9,376.2 98.2,377.2 98.5,378.1 98.9,379.1 99.2,380.0 99.6,380.9 100.0,381.9 100.4,382.8 100.8,383.7 101.3,384.6 101.7,385.5 102.2,386.4 102.7,387.3 103.2,388.1 103.7,389.0 104.2,389.9 104.7,390.7 105.2,391.6 105.7,392.4 106.3,393.3 106.8,394.1 107.4,394.9 107.9,395.8 108.5,396.6 109.1,397.4 109.6,398.3 110.2,399.1 110.8,399.9 111.3,400.7 111.9,401.6 112.5,402.4 113.1,403.2 113.7,404.0 114.3,404.8 114.9,405.6 115.5,406.4 116.1,407.2 116.7,408.0 117.4,408.8 118.0,409.6 118.6,410.4 119.2,411.2 119.8,411.9 120.4,412.7 121.1,413.5 121.7,414.3 122.3,415.1 122.9,415.9 123.5,416.7 124.2,417.5 124.8,418.3 125.4,419.0 126.0,419.8 126.6,420.6 127.3,421.4 127.9,422.2 128.5,423.0 129.2,423.7 129.9,424.5 130.5,425.2 131.2,425.9 131.9,426.6 132.7,427.3 133.4,428.0 134.1,428.7 134.9,429.3 135.7,430.0 136.5,430.6 137.2,431.2 138.0,431.8 138.8,432.4 139.7,433.0 140.5,433.6 141.3,434.2 142.1,434.7 143.0,435.3 143.8,435.8 144.7,436.3 145.5,436.9 146.4,437.4 147.3,437.9 148.1,438.4 149.0,438.9 149.9,439.3 150.8,439.8 151.7,440.2 152.6,440.6 153.5,441.1 154.4,441.5 155.3,441.9 156.3,442.3 157.2,442.7 158.1,443.0 159.1,443.4 160.0,443.7 161.0,444.0 161.9,444.4 162.9,444.7 163.8,445.0 164.8,445.3 165.7,445.5 166.7,445.8 167.7,446.1 168.6,446.4 169.6,446.7 170.5,447.0 171.5,447.3 171.5,447.3" stroke="#33b0b0" stroke-width="1.2" fill="none" stroke-linejoin="round"/>
<path d="M16.3,388.2 16.7,389.1 17.0,390.1 17.4,391.0 17.8,391.9 18.1,392.9 18.5,393.8 18.8,394.8 19.2,395.7 19.6,396.6 19.9,397.6 20.3,398.5 20.7,399.4 21.0,400.4 21.4,401.3 21.8,402.2 22.2,403.2 22.6,404.1 23.0,405.0 23.4,405.9 23.8,406.8 24.2,407.8 24.6,408.7 25.0,409.6 25.4,410.5 25.8,411.4 26.2,412.4 26.7,413.3 27.1,414.2 27.6,415.1 28.0,416.0 28.5,416.8 29.0,417.7 29.5,418.6 30.1,419.4 30.6,420.2 31.2,421.0 31.8,421.8 32.5,422.6 33.1,423.4 33.8,424.2 34.5,424.9 35.2,425.6 36.0,426.1 36.9,426.6 37.8,426.9 38.8,427.0 39.8,426.9 40.8,426.7 41.7,426.4 42.6,426.0 43.5,425.5 44.3,424.9 45.1,424.3 45.9,423.6 46.6,422.9 47.3,422.2 47.9,421.5 48.6,420.7 49.3,420.0 50.0,419.2 50.6,418.5 51.3,417.7 52.0,417.0 52.7,416.3 53.4,415.5 54.1,414.8 54.8,414.1 55.5,413.4 56.2,412.7 57.0,412.0 57.7,411.3 58.4,410.6 59.1,409.9 59.9,409.2 60.6,408.5 61.3,407.9 62.1,407.2 62.8,406.5 63.5,405.8 64.3,405.2 65.1,404.5 65.8,403.9 66.6,403.2 67.4,402.6 68.2,402.0 69.0,401.4 69.8,400.8 70.7,400.3 71.5,399.7 72.3,399.2 73.2,398.6 74.1,398.1 74.9,397.6 75.8,397.1 76.7,396.7 77.6,396.2 78.5,395.8 79.4,395.3 80.3,394.9 81.3,394.5 82.2,394.1 83.1,393.8 84.0,393.4 85.0,393.1 85.9,392.7 86.9,392.4 87.9,392.2 88.8,391.9 89.8,391.7 90.8,391.5 91.8,391.4 92.8,391.3 93.8,391.2 94.8,391.2 95.8,391.2 96.8,391.3 97.8,391.4 98.8,391.5 99.8,391.6 100.8,391.8 101.8,392.0 102.8,392.2 103.7,392.4 104.7,392.7 105.7,393.0 106.6,393.3 107.6,393.7 108.5,394.0 109.4,394.4 110.3,394.9 111.2,395.3 112.1,395.8 113.0,396.2 113.9,396.7 114.8,397.2 115.6,397.7 116.5,398.2 117.3,398.8 118.2,399.3 119.0,399.8 119.9,400.4 120.7,401.0 121.5,401.5 122.4,402.1 123.2,402.7 124.0,403.3 124.8,403.9 125.6,404.5 126.3,405.2 127.1,405.8 127.9,406.4 128.7,407.1 129.5,407.7 130.2,408.3 131.0,409.0 131.8,409.7 132.5,410.3 133.3,411.0 134.0,411.7 134.7,412.4 135.5,413.0 136.2,413.7 136.9,414.4 137.7,415.1 138.4,415.8 139.1,416.5 139.8,417.2 140.6,417.9 141.3,418.6 142.1,419.2 142.8,419.9 143.6,420.6 144.3,421.2 145.1,421.9 145.8,422.6 146.6,423.2 147.3,423.9 148.1,424.6 148.8,425.2 149.6,425.9 150.4,426.5 151.1,427.2 151.9,427.8 152.7,428.5 153.4,429.1 154.2,429.8 155.0,430.4 155.7,431.1 156.5,431.7 157.3,432.3 158.1,432.9 158.9,433.5 159.7,434.2 160.5,434.8 161.3,435.4 162.1,436.0 162.9,436.5 163.7,437.1 164.6,437.7 165.4,438.3 166.2,438.9 167.0,439.5 167.8,440.1 168.6,440.6 169.5,441.2 170.3,441.8 171.1,442.4 171.5,442.7" stroke="#ff8844" stroke-width="1.2" fill="none" stroke-linejoin="round"/>
<path d="M16.3,400.0 16.7,400.9 17.1,401.8 17.5,402.8 17.8,403.7 18.2,404.6 18.6,405.6 19.0,406.5 19.4,407.4 19.7,408.3 20.1,409.3 20.5,410.2 20.9,411.1 21.3,412.0 21.7,413.0 22.1,413.9 22.6,414.8 23.0,415.7 23.5,416.6 24.0,417.4 24.4,418.3 24.9,419.2 25.4,420.1 25.8,421.0 26.3,421.9 26.8,422.7 27.3,423.6 27.9,424.4 28.4,425.3 29.0,426.1 29.6,426.9 30.2,427.7 30.8,428.5 31.5,429.2 32.3,429.9 33.0,430.5 33.8,431.1 34.7,431.7 35.5,432.2 36.5,432.6 37.4,432.9 38.4,433.1 39.4,433.2 40.3,433.1 41.3,432.9 42.3,432.6 43.2,432.2 44.1,431.7 45.0,431.3 45.8,430.7 46.6,430.1 47.4,429.5 48.2,428.9 49.0,428.3 49.7,427.6 50.5,426.9 51.2,426.3 52.0,425.6 52.7,424.9 53.5,424.3 54.3,423.6 55.0,423.0 55.8,422.4 56.6,421.8 57.5,421.2 58.3,420.6 59.1,420.0 59.9,419.5 60.7,418.9 61.5,418.3 62.4,417.7 63.2,417.2 64.0,416.6 64.9,416.0 65.7,415.5 66.5,415.0 67.4,414.4 68.3,413.9 69.1,413.4 70.0,413.0 70.9,412.5 71.8,412.0 72.7,411.6 73.6,411.1 74.5,410.7 75.4,410.2 76.3,409.8 77.2,409.4 78.1,409.0 79.1,408.7 80.0,408.3 80.9,408.0 81.9,407.6 82.9,407.3 83.8,407.1 84.8,406.9 85.8,406.7 86.8,406.5 87.8,406.4 88.8,406.4 89.8,406.3 90.8,406.3 91.8,406.3 92.8,406.3 93.8,406.3 94.8,406.3 95.8,406.3 96.8,406.4 97.8,406.4 98.8,406.5 99.8,406.5 100.8,406.6 101.8,406.8 102.8,406.9 103.8,407.1 104.8,407.3 105.7,407.5 106.7,407.8 107.7,408.1 108.6,408.4 109.5,408.7 110.5,409.1 111.4,409.5 112.3,409.9 113.2,410.3 114.2,410.7 115.1,411.1 116.0,411.6 116.8,412.0 117.7,412.5 118.6,413.0 119.5,413.5 120.3,414.0 121.2,414.6 122.0,415.1 122.9,415.7 123.7,416.2 124.5,416.8 125.3,417.4 126.1,418.0 127.0,418.5 127.8,419.1 128.6,419.7 129.4,420.3 130.2,420.9 131.1,421.4 131.9,422.0 132.7,422.6 133.5,423.2 134.3,423.8 135.1,424.4 135.9,425.0 136.7,425.5 137.6,426.1 138.4,426.7 139.2,427.3 140.0,427.9 140.8,428.5 141.6,429.1 142.4,429.6 143.3,430.2 144.1,430.8 144.9,431.3 145.8,431.9 146.6,432.4 147.5,432.9 148.3,433.4 149.2,434.0 150.1,434.5 150.9,435.0 151.8,435.5 152.7,436.0 153.6,436.5 154.4,437.0 155.3,437.5 156.2,438.0 157.0,438.5 157.9,438.9 158.8,439.4 159.7,439.9 160.5,440.4 161.4,440.9 162.3,441.4 163.2,441.9 164.0,442.4 164.9,442.9 165.8,443.3 166.7,443.8 167.6,444.3 168.4,444.8 169.3,445.3 170.2,445.8 171.1,446.3 171.5,446.5" stroke="#ff33ff" stroke-width="1.2" fill="none" stroke-linejoin="round"/>
<path d="M16.3,425.2 17.2,425.6 18.2,425.9 19.0,426.4 19.8,427.0 20.4,427.8 21.0,428.6 21.4,429.5 21.9,430.4 22.3,431.3 22.6,432.3 23.0,433.2 23.3,434.2 23.7,435.1 24.0,436.1 24.3,437.0 24.7,437.9 25.0,438.9 25.3,439.8 25.6,440.8 25.9,441.8 26.2,442.7 26.4,443.7 26.7,444.7 27.0,445.6 27.2,446.6 27.5,447.6 27.8,448.5 28.1,449.5 28.4,450.5 28.7,451.4 29.1,452.3 29.5,453.3 29.9,454.2 30.3,455.1 30.7,456.0 31.1,456.9 31.6,457.8 32.1,458.7 32.6,459.6 33.2,460.4 33.9,461.1 34.6,461.8 35.4,462.4 36.2,462.9 37.1,463.4 38.0,463.8 39.0,464.1 40.0,464.3 41.0,464.5 41.9,464.7 42.9,464.8 43.9,464.9 44.9,464.9 45.9,464.9 47.0,464.9 48.0,464.9 49.0,464.9 50.0,464.9 51.0,464.9 52.0,464.8 53.0,464.8 54.0,464.8 55.0,464.8 56.0,464.7 57.0,464.7 58.0,464.7 59.0,464.7 60.0,464.7 61.0,464.7 62.0,464.7 63.0,464.7 64.0,464.7 65.0,464.7 66.0,464.8 67.0,464.8 68.0,464.8 69.0,464.8 70.1,464.8 71.1,464.8 72.1,464.8 73.1,464.8 74.1,464.8 75.1,464.8 76.1,464.8 77.1,464.9 78.1,464.9 79.1,464.9 80.1,464.9 81.1,464.9 82.1,464.9 83.1,464.9 84.1,464.9 85.1,464.9 86.1,464.9 87.1,464.9 88.1,464.9 89.1,464.9 90.1,464.9 91.1,464.9 92.1,464.9 93.2,464.9 94.2,465.0 95.2,465.0 96.2,465.0 97.2,465.0 98.2,465.0 99.2,465.0 100.2,465.0 101.2,465.0 102.2,465.0 103.2,465.0 104.2,465.0 105.2,465.0 106.2,465.0 107.2,465.0 108.2,465.0 109.2,465.0 110.2,465.0 111.2,465.0 112.2,465.0 113.2,465.0 114.2,465.0 115.3,465.0 116.3,465.1 117.3,465.1 118.3,465.1 119.3,465.1 120.3,465.1 121.3,465.1 122.3,465.1 123.3,465.1 124.3,465.1 125.3,465.1 126.3,465.1 127.3,465.1 128.3,465.1 129.3,465.1 130.3,465.1 131.3,465.1 132.3,465.1 133.3,465.1 134.3,465.1 135.3,465.1 136.3,465.1 137.3,465.1 138.4,465.1 139.4,465.1 140.4,465.1 141.4,465.1 142.4,465.1 143.4,465.1 144.4,465.1 145.4,465.1 146.4,465.1 147.4,465.1 148.4,465.1 149.4,465.1 150.4,465.1 151.4,465.1 152.4,465.2 153.4,465.2 154.4,465.2 155.4,465.2 156.4,465.2 157.4,465.2 158.4,465.2 159.4,465.2 160.5,465.2 161.5,465.2 162.5,465.2 163.5,465.2 164.5,465.2 165.5,465.2 166.5,465.2 167.5,465.2 168.5,465.2 169.5,465.2 170.5,465.2 171.5,465.2 171.5,465.2" stroke="#aa55ff" stroke-width="1.2" fill="none" stroke-linejoin="round"/>
<text x="21.7" y="349.4" font-size="11" text-anchor="start" textLength="5.5" lengthAdjust="spacingAndGlyphs">E</text>
<text x="121.0" y="350.0" font-size="6.6" text-anchor="start" textLength="46.8" lengthAdjust="spacingAndGlyphs">Temperature (°C)</text>
<text x="141.9" y="357.5" font-size="6.6" text-anchor="start" textLength="14.5" lengthAdjust="spacingAndGlyphs">a - 40</text>
<text x="141.9" y="365.3" font-size="6.6" text-anchor="start" textLength="14.5" lengthAdjust="spacingAndGlyphs">b - 60</text>
<text x="141.9" y="373.1" font-size="6.6" text-anchor="start" textLength="14.5" lengthAdjust="spacingAndGlyphs">c - 20</text>
<text x="141.9" y="380.3" font-size="6.6" text-anchor="start" textLength="11.5" lengthAdjust="spacingAndGlyphs">d - 4</text>
<text x="10.3" y="352.6" font-size="8.4" text-anchor="start" textLength="3.9" lengthAdjust="spacingAndGlyphs">4</text>
<text x="10.0" y="380.5" font-size="8.4" text-anchor="start" textLength="3.9" lengthAdjust="spacingAndGlyphs">3</text>
<text x="10.0" y="410.0" font-size="8.4" text-anchor="start" textLength="3.9" lengthAdjust="spacingAndGlyphs">2</text>
<text x="10.0" y="438.5" font-size="8.4" text-anchor="start" textLength="3.9" lengthAdjust="spacingAndGlyphs">1</text>
<text x="10.0" y="464.5" font-size="8.4" text-anchor="start" textLength="3.9" lengthAdjust="spacingAndGlyphs">0</text>
<text x="14.3" y="482.8" font-size="8.4" text-anchor="start" textLength="13.0" lengthAdjust="spacingAndGlyphs">300</text>
<text x="62.0" y="482.8" font-size="8.4" text-anchor="start" textLength="12.0" lengthAdjust="spacingAndGlyphs">400</text>
<text x="114.9" y="482.8" font-size="8.4" text-anchor="start" textLength="12.1" lengthAdjust="spacingAndGlyphs">500</text>
<text x="162.6" y="482.8" font-size="8.4" text-anchor="start" textLength="13.0" lengthAdjust="spacingAndGlyphs">600</text>
<text x="66.5" y="490.5" font-size="9" text-anchor="start" textLength="57.8" lengthAdjust="spacingAndGlyphs">Wavelength (nm)</text>
<text x="79.0" y="363.0" font-size="7" text-anchor="start">a</text>
<text x="92.0" y="398.0" font-size="7" text-anchor="start">b</text>
<text x="92.0" y="411.5" font-size="7" text-anchor="start">c</text>
<text x="93.0" y="460.0" font-size="7" text-anchor="start">d</text>
<text transform="translate(7.0,403.3) rotate(-90)" font-size="8.3" text-anchor="middle" textLength="65.4" lengthAdjust="spacingAndGlyphs">Absorbance (a. u.)</text>
<path d="M210.7,338.3 H379.4 M210.7,477.4 H379.4" stroke="#555" stroke-width="1" fill="none"/>
<path d="M210.7,337.8 V477.9 M379.4,337.8 V477.9" stroke="#999" stroke-width="1" fill="none"/>
<path d="M267.3,477.4 v-3.0 M267.3,338.3 v3.0" stroke="#999" stroke-width="1"/>
<path d="M323.4,477.4 v-3.0 M323.4,338.3 v3.0" stroke="#999" stroke-width="1"/>
<path d="M210.7,378.5 h3.0 M379.4,378.5 h-3.0" stroke="#555" stroke-width="1"/>
<path d="M210.7,429 h3.0 M379.4,429 h-3.0" stroke="#555" stroke-width="1"/>
<path d="M210.7,472 h3.0 M379.4,472 h-3.0" stroke="#555" stroke-width="1"/>
<path d="M210.7,385.2 211.3,386.0 212.0,386.8 212.6,387.5 213.2,388.3 213.9,389.1 214.5,389.9 215.1,390.6 215.8,391.4 216.4,392.2 217.0,393.0 217.7,393.7 218.3,394.5 218.9,395.3 219.6,396.1 220.2,396.9 220.8,397.7 221.4,398.4 222.1,399.2 222.8,399.9 223.4,400.7 224.2,401.4 224.9,402.0 225.7,402.7 226.5,403.3 227.3,403.9 228.1,404.5 228.9,405.0 229.8,405.5 230.7,405.9 231.7,406.2 232.6,406.4 233.6,406.5 234.6,406.4 235.6,406.3 236.6,406.0 237.5,405.6 238.4,405.1 239.2,404.6 240.1,404.1 240.9,403.5 241.7,402.9 242.5,402.3 243.4,401.8 244.2,401.2 245.0,400.7 245.9,400.1 246.7,399.6 247.6,399.0 248.4,398.5 249.2,397.9 250.1,397.4 250.9,396.8 251.8,396.3 252.6,395.8 253.5,395.3 254.3,394.8 255.2,394.3 256.1,393.8 257.0,393.3 257.8,392.8 258.7,392.3 259.6,391.8 260.5,391.3 261.4,390.9 262.3,390.4 263.2,390.0 264.1,389.6 265.0,389.2 265.9,388.9 266.9,388.6 267.9,388.3 268.8,388.0 269.8,387.8 270.8,387.6 271.8,387.5 272.8,387.3 273.8,387.2 274.8,387.1 275.8,387.0 276.8,386.9 277.8,386.8 278.8,386.8 279.8,386.7 280.8,386.7 281.8,386.6 282.8,386.6 283.8,386.6 284.8,386.6 285.8,386.7 286.8,386.8 287.8,386.8 288.8,386.9 289.8,387.0 290.8,387.1 291.8,387.3 292.8,387.4 293.7,387.5 294.7,387.7 295.7,387.9 296.7,388.2 297.7,388.4 298.6,388.7 299.6,389.0 300.5,389.4 301.4,389.8 302.3,390.2 303.2,390.6 304.1,391.1 305.0,391.6 305.9,392.0 306.8,392.6 307.6,393.1 308.5,393.6 309.3,394.2 310.1,394.7 311.0,395.3 311.8,395.9 312.6,396.5 313.4,397.0 314.2,397.6 315.0,398.3 315.8,398.9 316.6,399.5 317.4,400.1 318.1,400.8 318.9,401.4 319.7,402.1 320.4,402.7 321.2,403.4 321.9,404.1 322.6,404.7 323.4,405.4 324.1,406.1 324.8,406.8 325.6,407.5 326.3,408.2 327.0,408.8 327.8,409.5 328.5,410.2 329.3,410.9 330.0,411.5 330.8,412.2 331.5,412.9 332.3,413.5 333.0,414.2 333.8,414.8 334.5,415.5 335.3,416.2 336.0,416.8 336.8,417.5 337.5,418.2 338.3,418.9 339.0,419.5 339.7,420.2 340.5,420.9 341.2,421.6 341.9,422.3 342.7,422.9 343.4,423.6 344.1,424.3 344.9,425.0 345.6,425.7 346.3,426.4 347.1,427.0 347.8,427.7 348.6,428.4 349.3,429.0 350.1,429.6 350.9,430.2 351.7,430.9 352.5,431.4 353.3,432.0 354.2,432.6 355.0,433.2 355.8,433.7 356.7,434.3 357.5,434.8 358.4,435.3 359.2,435.8 360.1,436.4 361.0,436.9 361.8,437.3 362.7,437.8 363.6,438.3 364.5,438.8 365.4,439.2 366.3,439.7 367.2,440.1 368.1,440.5 369.0,440.9 369.9,441.4 370.8,441.8 371.7,442.2 372.6,442.6 373.6,443.1 374.5,443.5 375.4,443.9 376.3,444.3 377.2,444.7 378.1,445.2 379.0,445.6 379.0,445.6" stroke="#ff33ff" stroke-width="1.2" fill="none" stroke-linejoin="round"/>
<path d="M210.7,379.4 211.2,380.2 211.8,381.1 212.3,382.0 212.8,382.8 213.4,383.7 213.9,384.5 214.4,385.4 215.0,386.2 215.5,387.1 216.1,387.9 216.6,388.7 217.2,389.6 217.7,390.4 218.3,391.2 218.9,392.1 219.4,392.9 220.0,393.7 220.6,394.6 221.1,395.4 221.7,396.2 222.3,397.0 222.9,397.9 223.4,398.7 224.0,399.5 224.7,400.3 225.3,401.1 225.9,401.8 226.6,402.6 227.3,403.3 228.0,404.0 228.7,404.8 229.4,405.5 230.1,406.1 230.9,406.8 231.7,407.4 232.5,407.9 233.4,408.4 234.4,408.8 235.3,409.0 236.3,409.1 237.3,409.1 238.3,409.0 239.3,408.8 240.2,408.5 241.2,408.1 242.1,407.7 243.0,407.3 243.9,406.9 244.9,406.5 245.8,406.1 246.8,405.8 247.7,405.5 248.7,405.3 249.7,405.1 250.7,404.9 251.6,404.7 252.6,404.5 253.6,404.4 254.6,404.3 255.6,404.2 256.6,404.1 257.6,404.0 258.6,403.9 259.6,403.9 260.6,403.9 261.6,403.9 262.7,403.9 263.7,403.9 264.7,403.9 265.7,403.9 266.7,404.0 267.7,404.1 268.7,404.1 269.7,404.2 270.7,404.3 271.7,404.4 272.7,404.5 273.7,404.6 274.7,404.8 275.7,404.9 276.7,405.1 277.6,405.2 278.6,405.4 279.6,405.6 280.6,405.8 281.6,406.0 282.6,406.2 283.5,406.5 284.5,406.7 285.5,407.0 286.4,407.3 287.4,407.6 288.4,407.9 289.3,408.2 290.3,408.6 291.2,408.9 292.1,409.3 293.1,409.6 294.0,410.0 295.0,410.4 295.9,410.7 296.8,411.1 297.7,411.5 298.7,411.9 299.6,412.3 300.5,412.7 301.5,413.0 302.4,413.5 303.3,413.9 304.2,414.3 305.1,414.8 305.9,415.3 306.8,415.8 307.7,416.3 308.5,416.9 309.3,417.5 310.1,418.0 311.0,418.6 311.8,419.2 312.6,419.8 313.4,420.4 314.2,421.0 315.0,421.6 315.9,422.2 316.7,422.7 317.5,423.3 318.4,423.8 319.2,424.3 320.1,424.9 320.9,425.4 321.8,425.9 322.7,426.4 323.5,427.0 324.4,427.5 325.2,428.0 326.1,428.5 327.0,429.0 327.8,429.5 328.7,430.1 329.6,430.6 330.4,431.1 331.3,431.6 332.1,432.1 333.0,432.6 333.9,433.1 334.7,433.6 335.6,434.2 336.5,434.7 337.3,435.2 338.2,435.7 339.1,436.2 339.9,436.7 340.8,437.3 341.6,437.8 342.5,438.3 343.3,438.8 344.2,439.4 345.1,439.9 345.9,440.4 346.8,440.9 347.6,441.4 348.5,441.9 349.4,442.4 350.3,442.9 351.1,443.4 352.0,443.9 352.9,444.4 353.8,444.8 354.7,445.3 355.6,445.8 356.5,446.2 357.4,446.7 358.3,447.1 359.2,447.5 360.1,447.9 361.0,448.3 362.0,448.7 362.9,449.1 363.8,449.5 364.8,449.8 365.7,450.2 366.7,450.5 367.6,450.9 368.6,451.2 369.5,451.5 370.5,451.8 371.4,452.2 372.4,452.5 373.3,452.8 374.3,453.1 375.2,453.5 376.2,453.8 377.1,454.1 378.1,454.5 379.0,454.8 379.0,454.8" stroke="#222" stroke-width="1.2" fill="none" stroke-linejoin="round"/>
<path d="M210.7,415.6 211.4,416.3 212.1,417.1 212.7,417.8 213.4,418.6 214.1,419.3 214.7,420.1 215.4,420.8 216.1,421.6 216.8,422.3 217.5,423.0 218.2,423.7 219.0,424.3 219.8,424.9 220.6,425.5 221.4,426.1 222.2,426.7 223.1,427.2 223.9,427.8 224.8,428.3 225.7,428.8 226.5,429.3 227.4,429.7 228.4,430.1 229.3,430.5 230.2,430.8 231.2,431.1 232.2,431.3 233.2,431.4 234.2,431.5 235.2,431.4 236.2,431.3 237.1,431.1 238.1,430.9 239.1,430.6 240.0,430.2 240.9,429.8 241.9,429.4 242.7,429.0 243.6,428.5 244.5,428.0 245.4,427.5 246.3,427.0 247.1,426.5 248.0,426.0 248.9,425.5 249.8,425.1 250.7,424.6 251.6,424.1 252.5,423.7 253.3,423.2 254.2,422.7 255.1,422.3 256.0,421.8 256.9,421.4 257.8,420.9 258.7,420.5 259.6,420.0 260.5,419.6 261.5,419.2 262.4,418.9 263.3,418.5 264.3,418.2 265.2,417.8 266.2,417.5 267.1,417.2 268.1,416.9 269.0,416.6 270.0,416.3 271.0,416.0 271.9,415.7 272.9,415.5 273.9,415.3 274.9,415.1 275.9,414.9 276.8,414.7 277.8,414.6 278.8,414.5 279.8,414.4 280.8,414.4 281.8,414.3 282.8,414.3 283.8,414.3 284.9,414.3 285.9,414.3 286.9,414.4 287.9,414.4 288.9,414.5 289.9,414.6 290.9,414.8 291.8,414.9 292.8,415.1 293.8,415.3 294.8,415.5 295.8,415.7 296.8,416.0 297.7,416.2 298.7,416.5 299.6,416.8 300.6,417.2 301.5,417.5 302.4,417.9 303.4,418.3 304.3,418.8 305.1,419.2 306.0,419.7 306.9,420.2 307.7,420.8 308.6,421.3 309.4,421.9 310.2,422.5 311.1,423.0 311.9,423.6 312.7,424.2 313.5,424.8 314.3,425.4 315.1,426.0 315.9,426.6 316.7,427.2 317.5,427.8 318.4,428.4 319.2,429.0 320.0,429.5 320.8,430.1 321.6,430.7 322.5,431.3 323.3,431.8 324.1,432.4 324.9,433.0 325.8,433.6 326.6,434.1 327.4,434.7 328.2,435.3 329.0,435.9 329.9,436.4 330.7,437.0 331.5,437.6 332.3,438.2 333.1,438.8 334.0,439.3 334.8,439.9 335.6,440.5 336.4,441.1 337.3,441.6 338.1,442.2 338.9,442.7 339.8,443.3 340.6,443.8 341.5,444.4 342.3,444.9 343.2,445.4 344.0,446.0 344.9,446.5 345.8,447.0 346.6,447.5 347.5,448.0 348.4,448.5 349.2,449.0 350.1,449.5 351.0,449.9 351.9,450.4 352.8,450.8 353.7,451.3 354.6,451.7 355.5,452.1 356.4,452.6 357.4,453.0 358.3,453.4 359.2,453.8 360.1,454.2 361.1,454.5 362.0,454.9 362.9,455.3 363.9,455.6 364.8,456.0 365.7,456.3 366.7,456.7 367.6,457.0 368.6,457.4 369.5,457.7 370.5,458.0 371.4,458.4 372.4,458.7 373.3,459.0 374.3,459.3 375.2,459.7 376.2,460.0 377.1,460.3 378.1,460.7 379.0,461.0 379.0,461.0" stroke="#ff4444" stroke-width="1.2" fill="none" stroke-linejoin="round"/>
<path d="M210.7,459.9 211.7,460.1 212.7,460.2 213.7,460.4 214.7,460.6 215.6,460.8 216.6,460.9 217.6,461.1 218.6,461.3 219.6,461.5 220.6,461.7 221.6,461.8 222.6,462.0 223.5,462.2 224.5,462.3 225.5,462.5 226.5,462.6 227.5,462.8 228.5,462.9 229.5,463.0 230.5,463.1 231.5,463.2 232.5,463.3 233.5,463.4 234.5,463.5 235.5,463.6 236.5,463.7 237.5,463.8 238.5,463.8 239.5,463.9 240.5,463.9 241.5,464.0 242.5,464.0 243.5,464.1 244.5,464.1 245.5,464.2 246.5,464.2 247.5,464.2 248.5,464.3 249.5,464.3 250.5,464.3 251.5,464.4 252.5,464.4 253.5,464.4 254.6,464.4 255.6,464.5 256.6,464.5 257.6,464.5 258.6,464.5 259.6,464.6 260.6,464.6 261.6,464.6 262.6,464.6 263.6,464.6 264.6,464.6 265.6,464.6 266.6,464.6 267.6,464.6 268.6,464.6 269.6,464.6 270.6,464.6 271.6,464.6 272.6,464.6 273.6,464.6 274.6,464.6 275.6,464.6 276.6,464.5 277.6,464.5 278.6,464.5 279.6,464.5 280.6,464.5 281.7,464.5 282.7,464.5 283.7,464.5 284.7,464.5 285.7,464.5 286.7,464.5 287.7,464.5 288.7,464.5 289.7,464.5 290.7,464.5 291.7,464.5 292.7,464.5 293.7,464.5 294.7,464.5 295.7,464.5 296.7,464.5 297.7,464.5 298.7,464.5 299.7,464.5 300.7,464.6 301.7,464.6 302.7,464.6 303.7,464.6 304.7,464.6 305.7,464.6 306.7,464.6 307.7,464.6 308.8,464.7 309.8,464.7 310.8,464.7 311.8,464.7 312.8,464.7 313.8,464.7 314.8,464.7 315.8,464.8 316.8,464.8 317.8,464.8 318.8,464.8 319.8,464.8 320.8,464.8 321.8,464.9 322.8,464.9 323.8,464.9 324.8,464.9 325.8,464.9 326.8,464.9 327.8,465.0 328.8,465.0 329.8,465.0 330.8,465.0 331.8,465.0 332.8,465.1 333.8,465.1 334.8,465.1 335.8,465.1 336.9,465.1 337.9,465.1 338.9,465.2 339.9,465.2 340.9,465.2 341.9,465.2 342.9,465.2 343.9,465.3 344.9,465.3 345.9,465.3 346.9,465.3 347.9,465.3 348.9,465.4 349.9,465.4 350.9,465.4 351.9,465.4 352.9,465.4 353.9,465.4 354.9,465.5 355.9,465.5 356.9,465.5 357.9,465.5 358.9,465.5 359.9,465.6 360.9,465.6 361.9,465.6 362.9,465.6 363.9,465.6 365.0,465.7 366.0,465.7 367.0,465.7 368.0,465.7 369.0,465.7 370.0,465.7 371.0,465.8 372.0,465.8 373.0,465.8 374.0,465.8 375.0,465.8 376.0,465.8 377.0,465.9 378.0,465.9 379.0,465.9 379.0,465.9" stroke="#44dd44" stroke-width="1.2" fill="none" stroke-linejoin="round"/>
<text x="215.3" y="347.6" font-size="10" text-anchor="start" textLength="5.3" lengthAdjust="spacingAndGlyphs">F</text>
<text x="324.5" y="351.0" font-size="6.6" text-anchor="start" textLength="48.3" lengthAdjust="spacingAndGlyphs">Temperature (°C)</text>
<text x="346.3" y="358.5" font-size="6.6" text-anchor="start" textLength="15.0" lengthAdjust="spacingAndGlyphs">a - 40</text>
<text x="346.3" y="366.0" font-size="6.6" text-anchor="start" textLength="15.0" lengthAdjust="spacingAndGlyphs">b - 60</text>
<text x="346.3" y="373.8" font-size="6.6" text-anchor="start" textLength="15.0" lengthAdjust="spacingAndGlyphs">c - 20</text>
<text x="346.3" y="381.5" font-size="6.6" text-anchor="start" textLength="12.0" lengthAdjust="spacingAndGlyphs">d - 4</text>
<text x="205.0" y="341.5" font-size="8.96" text-anchor="start" textLength="3.9" lengthAdjust="spacingAndGlyphs">3</text>
<text x="205.0" y="381.0" font-size="8.96" text-anchor="start" textLength="3.9" lengthAdjust="spacingAndGlyphs">2</text>
<text x="205.0" y="429.0" font-size="8.96" text-anchor="start" textLength="3.9" lengthAdjust="spacingAndGlyphs">1</text>
<text x="205.0" y="472.5" font-size="8.96" text-anchor="start" textLength="3.9" lengthAdjust="spacingAndGlyphs">0</text>
<text x="209.7" y="486.0" font-size="8.96" text-anchor="start" textLength="13.5" lengthAdjust="spacingAndGlyphs">200</text>
<text x="260.5" y="486.0" font-size="8.96" text-anchor="start" textLength="13.0" lengthAdjust="spacingAndGlyphs">300</text>
<text x="317.5" y="486.0" font-size="8.96" text-anchor="start" textLength="12.5" lengthAdjust="spacingAndGlyphs">400</text>
<text x="370.7" y="486.0" font-size="8.96" text-anchor="start" textLength="11.7" lengthAdjust="spacingAndGlyphs">500</text>
<text x="264.9" y="491.8" font-size="9.3" text-anchor="start" textLength="60.0" lengthAdjust="spacingAndGlyphs">Wavelength (nm)</text>
<text x="282.5" y="392.0" font-size="7" text-anchor="start">a</text>
<text x="282.5" y="412.3" font-size="7" text-anchor="start">b</text>
<text x="282.5" y="420.0" font-size="7" text-anchor="start">c</text>
<text x="282.5" y="470.0" font-size="7" text-anchor="start">d</text>
<text transform="translate(202.9,405.45) rotate(-90)" font-size="8.3" text-anchor="middle" textLength="65.9" lengthAdjust="spacingAndGlyphs">Absorbance (a. u.)</text>
</svg>
</body></html>
